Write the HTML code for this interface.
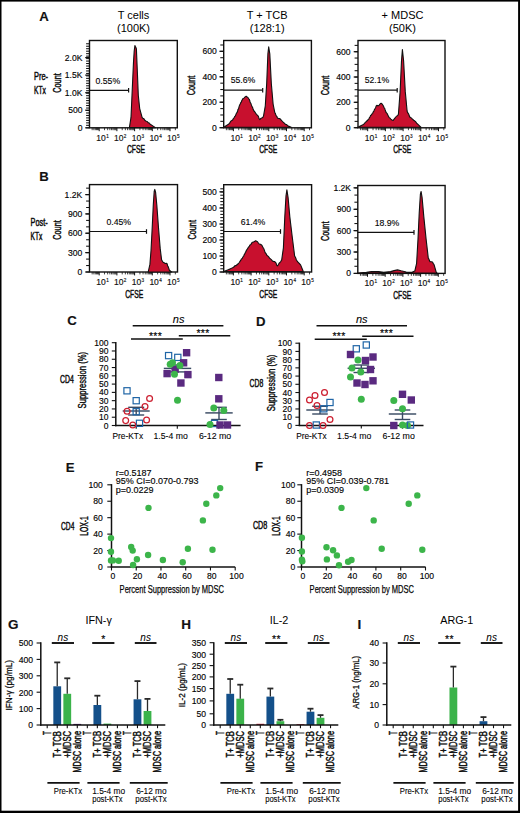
<!DOCTYPE html>
<html><head><meta charset="utf-8"><style>
html,body{margin:0;padding:0;background:#fff;}
svg{display:block;}
text{font-family:"Liberation Sans", sans-serif;stroke:#111;stroke-width:0.15px;}
</style></head><body>
<svg width="520" height="813" viewBox="0 0 520 813">
<rect width="520" height="813" fill="#fff"/>
<rect x="89.5" y="40.5" width="87.80000000000001" height="87.3" fill="none" stroke="#111" stroke-width="1.4"/>
<polygon points="129.4,127.6 131.0,117.4 132.5,84.0 133.5,62.0 134.2,51.0 134.9,45.5 135.4,46.5 135.9,47.4 136.4,49.0 137.4,73.0 138.3,95.3 139.7,108.6 142.1,117.4 142.9,118.4 143.8,118.6 144.6,120.0 145.4,120.8 146.3,121.3 147.2,121.6 148.1,122.7 149.0,122.9 149.9,124.0 155.4,127.6" fill="#c8102e" stroke="#111" stroke-width="1.1" stroke-linejoin="round"/>
<line x1="86.10" y1="127.80" x2="89.50" y2="127.80" stroke="#111" stroke-width="1.05"/>
<line x1="86.10" y1="125.33" x2="89.50" y2="125.33" stroke="#111" stroke-width="1.05"/>
<line x1="86.10" y1="122.86" x2="89.50" y2="122.86" stroke="#111" stroke-width="1.05"/>
<line x1="86.10" y1="120.39" x2="89.50" y2="120.39" stroke="#111" stroke-width="1.05"/>
<line x1="86.10" y1="117.91" x2="89.50" y2="117.91" stroke="#111" stroke-width="1.05"/>
<line x1="86.10" y1="115.44" x2="89.50" y2="115.44" stroke="#111" stroke-width="1.05"/>
<line x1="86.10" y1="112.97" x2="89.50" y2="112.97" stroke="#111" stroke-width="1.05"/>
<line x1="86.10" y1="110.50" x2="89.50" y2="110.50" stroke="#111" stroke-width="1.05"/>
<line x1="86.10" y1="108.03" x2="89.50" y2="108.03" stroke="#111" stroke-width="1.05"/>
<line x1="86.10" y1="105.56" x2="89.50" y2="105.56" stroke="#111" stroke-width="1.05"/>
<line x1="86.10" y1="103.09" x2="89.50" y2="103.09" stroke="#111" stroke-width="1.05"/>
<line x1="86.10" y1="100.61" x2="89.50" y2="100.61" stroke="#111" stroke-width="1.05"/>
<line x1="86.10" y1="98.14" x2="89.50" y2="98.14" stroke="#111" stroke-width="1.05"/>
<line x1="86.10" y1="95.67" x2="89.50" y2="95.67" stroke="#111" stroke-width="1.05"/>
<line x1="86.10" y1="93.20" x2="89.50" y2="93.20" stroke="#111" stroke-width="1.05"/>
<line x1="86.10" y1="90.73" x2="89.50" y2="90.73" stroke="#111" stroke-width="1.05"/>
<line x1="86.10" y1="88.26" x2="89.50" y2="88.26" stroke="#111" stroke-width="1.05"/>
<line x1="86.10" y1="85.79" x2="89.50" y2="85.79" stroke="#111" stroke-width="1.05"/>
<line x1="86.10" y1="83.31" x2="89.50" y2="83.31" stroke="#111" stroke-width="1.05"/>
<line x1="86.10" y1="80.84" x2="89.50" y2="80.84" stroke="#111" stroke-width="1.05"/>
<line x1="86.10" y1="78.37" x2="89.50" y2="78.37" stroke="#111" stroke-width="1.05"/>
<line x1="86.10" y1="75.90" x2="89.50" y2="75.90" stroke="#111" stroke-width="1.05"/>
<line x1="86.10" y1="73.43" x2="89.50" y2="73.43" stroke="#111" stroke-width="1.05"/>
<line x1="86.10" y1="70.96" x2="89.50" y2="70.96" stroke="#111" stroke-width="1.05"/>
<line x1="86.10" y1="68.49" x2="89.50" y2="68.49" stroke="#111" stroke-width="1.05"/>
<line x1="86.10" y1="66.01" x2="89.50" y2="66.01" stroke="#111" stroke-width="1.05"/>
<line x1="86.10" y1="63.54" x2="89.50" y2="63.54" stroke="#111" stroke-width="1.05"/>
<line x1="86.10" y1="61.07" x2="89.50" y2="61.07" stroke="#111" stroke-width="1.05"/>
<line x1="86.10" y1="58.60" x2="89.50" y2="58.60" stroke="#111" stroke-width="1.05"/>
<line x1="86.10" y1="56.13" x2="89.50" y2="56.13" stroke="#111" stroke-width="1.05"/>
<line x1="86.10" y1="53.66" x2="89.50" y2="53.66" stroke="#111" stroke-width="1.05"/>
<line x1="86.10" y1="51.19" x2="89.50" y2="51.19" stroke="#111" stroke-width="1.05"/>
<line x1="86.10" y1="48.71" x2="89.50" y2="48.71" stroke="#111" stroke-width="1.05"/>
<line x1="86.10" y1="46.24" x2="89.50" y2="46.24" stroke="#111" stroke-width="1.05"/>
<line x1="86.10" y1="43.77" x2="89.50" y2="43.77" stroke="#111" stroke-width="1.05"/>
<line x1="85.20" y1="127.80" x2="89.50" y2="127.80" stroke="#111" stroke-width="1.2"/>
<text x="0" y="0" font-size="8.6" text-anchor="end" transform="translate(82.50 130.80) scale(1.0 1)">0</text>
<line x1="85.20" y1="110.20" x2="89.50" y2="110.20" stroke="#111" stroke-width="1.2"/>
<text x="0" y="0" font-size="8.6" text-anchor="end" transform="translate(82.50 113.20) scale(1.0 1)">500</text>
<line x1="85.20" y1="92.70" x2="89.50" y2="92.70" stroke="#111" stroke-width="1.2"/>
<text x="0" y="0" font-size="8.6" text-anchor="end" transform="translate(82.50 95.70) scale(1.0 1)">1.0K</text>
<line x1="85.20" y1="75.10" x2="89.50" y2="75.10" stroke="#111" stroke-width="1.2"/>
<text x="0" y="0" font-size="8.6" text-anchor="end" transform="translate(82.50 78.10) scale(1.0 1)">1.5K</text>
<line x1="85.20" y1="57.60" x2="89.50" y2="57.60" stroke="#111" stroke-width="1.2"/>
<text x="0" y="0" font-size="8.6" text-anchor="end" transform="translate(82.50 60.60) scale(1.0 1)">2.0K</text>
<line x1="92.16" y1="127.80" x2="92.16" y2="130.20" stroke="#111" stroke-width="0.8"/>
<line x1="93.87" y1="127.80" x2="93.87" y2="130.20" stroke="#111" stroke-width="0.8"/>
<line x1="95.27" y1="127.80" x2="95.27" y2="130.20" stroke="#111" stroke-width="0.8"/>
<line x1="96.46" y1="127.80" x2="96.46" y2="130.20" stroke="#111" stroke-width="0.8"/>
<line x1="97.48" y1="127.80" x2="97.48" y2="130.20" stroke="#111" stroke-width="0.8"/>
<line x1="98.39" y1="127.80" x2="98.39" y2="130.20" stroke="#111" stroke-width="0.8"/>
<line x1="99.20" y1="127.80" x2="99.20" y2="131.20" stroke="#111" stroke-width="1.0"/>
<line x1="104.53" y1="127.80" x2="104.53" y2="130.20" stroke="#111" stroke-width="0.8"/>
<line x1="107.65" y1="127.80" x2="107.65" y2="130.20" stroke="#111" stroke-width="0.8"/>
<line x1="109.86" y1="127.80" x2="109.86" y2="130.20" stroke="#111" stroke-width="0.8"/>
<line x1="111.57" y1="127.80" x2="111.57" y2="130.20" stroke="#111" stroke-width="0.8"/>
<line x1="112.97" y1="127.80" x2="112.97" y2="130.20" stroke="#111" stroke-width="0.8"/>
<line x1="114.16" y1="127.80" x2="114.16" y2="130.20" stroke="#111" stroke-width="0.8"/>
<line x1="115.18" y1="127.80" x2="115.18" y2="130.20" stroke="#111" stroke-width="0.8"/>
<line x1="116.09" y1="127.80" x2="116.09" y2="130.20" stroke="#111" stroke-width="0.8"/>
<line x1="116.90" y1="127.80" x2="116.90" y2="131.20" stroke="#111" stroke-width="1.0"/>
<line x1="122.23" y1="127.80" x2="122.23" y2="130.20" stroke="#111" stroke-width="0.8"/>
<line x1="125.35" y1="127.80" x2="125.35" y2="130.20" stroke="#111" stroke-width="0.8"/>
<line x1="127.56" y1="127.80" x2="127.56" y2="130.20" stroke="#111" stroke-width="0.8"/>
<line x1="129.27" y1="127.80" x2="129.27" y2="130.20" stroke="#111" stroke-width="0.8"/>
<line x1="130.67" y1="127.80" x2="130.67" y2="130.20" stroke="#111" stroke-width="0.8"/>
<line x1="131.86" y1="127.80" x2="131.86" y2="130.20" stroke="#111" stroke-width="0.8"/>
<line x1="132.88" y1="127.80" x2="132.88" y2="130.20" stroke="#111" stroke-width="0.8"/>
<line x1="133.79" y1="127.80" x2="133.79" y2="130.20" stroke="#111" stroke-width="0.8"/>
<line x1="134.60" y1="127.80" x2="134.60" y2="131.20" stroke="#111" stroke-width="1.0"/>
<line x1="139.93" y1="127.80" x2="139.93" y2="130.20" stroke="#111" stroke-width="0.8"/>
<line x1="143.05" y1="127.80" x2="143.05" y2="130.20" stroke="#111" stroke-width="0.8"/>
<line x1="145.26" y1="127.80" x2="145.26" y2="130.20" stroke="#111" stroke-width="0.8"/>
<line x1="146.97" y1="127.80" x2="146.97" y2="130.20" stroke="#111" stroke-width="0.8"/>
<line x1="148.37" y1="127.80" x2="148.37" y2="130.20" stroke="#111" stroke-width="0.8"/>
<line x1="149.56" y1="127.80" x2="149.56" y2="130.20" stroke="#111" stroke-width="0.8"/>
<line x1="150.58" y1="127.80" x2="150.58" y2="130.20" stroke="#111" stroke-width="0.8"/>
<line x1="151.49" y1="127.80" x2="151.49" y2="130.20" stroke="#111" stroke-width="0.8"/>
<line x1="152.30" y1="127.80" x2="152.30" y2="131.20" stroke="#111" stroke-width="1.0"/>
<line x1="157.63" y1="127.80" x2="157.63" y2="130.20" stroke="#111" stroke-width="0.8"/>
<line x1="160.75" y1="127.80" x2="160.75" y2="130.20" stroke="#111" stroke-width="0.8"/>
<line x1="162.96" y1="127.80" x2="162.96" y2="130.20" stroke="#111" stroke-width="0.8"/>
<line x1="164.67" y1="127.80" x2="164.67" y2="130.20" stroke="#111" stroke-width="0.8"/>
<line x1="166.07" y1="127.80" x2="166.07" y2="130.20" stroke="#111" stroke-width="0.8"/>
<line x1="167.26" y1="127.80" x2="167.26" y2="130.20" stroke="#111" stroke-width="0.8"/>
<line x1="168.28" y1="127.80" x2="168.28" y2="130.20" stroke="#111" stroke-width="0.8"/>
<line x1="169.19" y1="127.80" x2="169.19" y2="130.20" stroke="#111" stroke-width="0.8"/>
<line x1="170.00" y1="127.80" x2="170.00" y2="131.20" stroke="#111" stroke-width="1.0"/>
<line x1="175.33" y1="127.80" x2="175.33" y2="130.20" stroke="#111" stroke-width="0.8"/>
<text x="96.30" y="140.80" font-size="8.5" fill="#111">10<tspan font-size="4.6" dy="-3.3" dx="0.4">1</tspan></text>
<text x="114.00" y="140.80" font-size="8.5" fill="#111">10<tspan font-size="4.6" dy="-3.3" dx="0.4">2</tspan></text>
<text x="131.70" y="140.80" font-size="8.5" fill="#111">10<tspan font-size="4.6" dy="-3.3" dx="0.4">3</tspan></text>
<text x="149.40" y="140.80" font-size="8.5" fill="#111">10<tspan font-size="4.6" dy="-3.3" dx="0.4">4</tspan></text>
<text x="167.10" y="140.80" font-size="8.5" fill="#111">10<tspan font-size="4.6" dy="-3.3" dx="0.4">5</tspan></text>
<text x="136.00" y="153.40" font-size="10" text-anchor="middle" textLength="18" lengthAdjust="spacingAndGlyphs" style="stroke-width:0.45px">CFSE</text>
<text x="60.60" y="83.00" font-size="10.5" text-anchor="middle" transform="rotate(-90 60.60 83.00)" textLength="19.5" lengthAdjust="spacingAndGlyphs" style="stroke-width:0.45px">Count</text>
<line x1="89.50" y1="90.30" x2="128.60" y2="90.30" stroke="#111" stroke-width="1.2"/>
<line x1="128.60" y1="88.00" x2="128.60" y2="92.60" stroke="#111" stroke-width="1.2"/>
<text x="95.50" y="83.50" font-size="8.7" text-anchor="start" style="stroke-width:0.12px">0.55%</text>
<rect x="223.7" y="40.5" width="87.69999999999999" height="87.3" fill="none" stroke="#111" stroke-width="1.4"/>
<polygon points="223.7,127.2 228.9,124.0 229.6,123.1 230.4,121.8 231.1,120.9 231.9,120.4 232.6,120.0 233.4,118.4 234.1,117.9 234.6,116.6 235.1,116.1 235.6,115.4 236.1,114.0 236.6,112.9 237.1,112.5 237.6,111.0 238.0,109.3 238.5,109.1 238.9,107.3 239.3,105.9 239.8,104.7 240.2,104.0 240.7,102.7 241.2,102.3 241.8,100.5 242.3,99.9 242.8,98.8 243.9,98.1 245.1,96.9 246.2,96.2 247.1,97.1 247.9,97.5 248.8,98.8 249.2,99.3 249.7,100.5 250.1,102.0 250.5,102.8 251.0,103.7 251.4,104.9 251.8,106.0 252.3,106.9 252.7,107.7 253.1,109.3 253.6,110.2 254.0,111.0 254.9,111.9 255.7,113.3 256.6,114.4 257.5,115.3 258.3,116.2 258.8,117.7 259.2,118.7 259.7,119.6 260.8,118.5 261.8,117.9 262.6,117.6 263.5,116.2 265.3,105.8 266.7,83.3 267.9,53.8 268.7,46.9 269.8,53.8 271.3,83.3 273.1,104.0 274.8,112.7 275.3,113.3 275.8,114.7 276.4,116.1 276.9,116.5 277.4,117.9 278.5,118.5 279.7,118.5 280.8,119.6 281.7,120.7 282.6,121.6 283.4,122.3 284.3,123.1 285.5,124.4 286.6,124.6 287.8,125.7 291.2,127.2" fill="#c8102e" stroke="#111" stroke-width="1.1" stroke-linejoin="round"/>
<line x1="220.30" y1="127.70" x2="223.70" y2="127.70" stroke="#111" stroke-width="1.05"/>
<line x1="220.30" y1="121.34" x2="223.70" y2="121.34" stroke="#111" stroke-width="1.05"/>
<line x1="220.30" y1="114.98" x2="223.70" y2="114.98" stroke="#111" stroke-width="1.05"/>
<line x1="220.30" y1="108.61" x2="223.70" y2="108.61" stroke="#111" stroke-width="1.05"/>
<line x1="220.30" y1="102.25" x2="223.70" y2="102.25" stroke="#111" stroke-width="1.05"/>
<line x1="220.30" y1="95.89" x2="223.70" y2="95.89" stroke="#111" stroke-width="1.05"/>
<line x1="220.30" y1="89.53" x2="223.70" y2="89.53" stroke="#111" stroke-width="1.05"/>
<line x1="220.30" y1="83.16" x2="223.70" y2="83.16" stroke="#111" stroke-width="1.05"/>
<line x1="220.30" y1="76.80" x2="223.70" y2="76.80" stroke="#111" stroke-width="1.05"/>
<line x1="220.30" y1="70.44" x2="223.70" y2="70.44" stroke="#111" stroke-width="1.05"/>
<line x1="220.30" y1="64.08" x2="223.70" y2="64.08" stroke="#111" stroke-width="1.05"/>
<line x1="220.30" y1="57.71" x2="223.70" y2="57.71" stroke="#111" stroke-width="1.05"/>
<line x1="220.30" y1="51.35" x2="223.70" y2="51.35" stroke="#111" stroke-width="1.05"/>
<line x1="220.30" y1="44.99" x2="223.70" y2="44.99" stroke="#111" stroke-width="1.05"/>
<line x1="219.40" y1="127.70" x2="223.70" y2="127.70" stroke="#111" stroke-width="1.2"/>
<text x="0" y="0" font-size="8.6" text-anchor="end" transform="translate(216.80 130.70) scale(1.0 1)">0</text>
<line x1="219.40" y1="102.20" x2="223.70" y2="102.20" stroke="#111" stroke-width="1.2"/>
<text x="0" y="0" font-size="8.6" text-anchor="end" transform="translate(216.80 105.20) scale(1.0 1)">200</text>
<line x1="219.40" y1="76.80" x2="223.70" y2="76.80" stroke="#111" stroke-width="1.2"/>
<text x="0" y="0" font-size="8.6" text-anchor="end" transform="translate(216.80 79.80) scale(1.0 1)">400</text>
<line x1="219.40" y1="51.30" x2="223.70" y2="51.30" stroke="#111" stroke-width="1.2"/>
<text x="0" y="0" font-size="8.6" text-anchor="end" transform="translate(216.80 54.30) scale(1.0 1)">600</text>
<line x1="226.36" y1="127.80" x2="226.36" y2="130.20" stroke="#111" stroke-width="0.8"/>
<line x1="228.07" y1="127.80" x2="228.07" y2="130.20" stroke="#111" stroke-width="0.8"/>
<line x1="229.47" y1="127.80" x2="229.47" y2="130.20" stroke="#111" stroke-width="0.8"/>
<line x1="230.66" y1="127.80" x2="230.66" y2="130.20" stroke="#111" stroke-width="0.8"/>
<line x1="231.68" y1="127.80" x2="231.68" y2="130.20" stroke="#111" stroke-width="0.8"/>
<line x1="232.59" y1="127.80" x2="232.59" y2="130.20" stroke="#111" stroke-width="0.8"/>
<line x1="233.40" y1="127.80" x2="233.40" y2="131.20" stroke="#111" stroke-width="1.0"/>
<line x1="238.73" y1="127.80" x2="238.73" y2="130.20" stroke="#111" stroke-width="0.8"/>
<line x1="241.85" y1="127.80" x2="241.85" y2="130.20" stroke="#111" stroke-width="0.8"/>
<line x1="244.06" y1="127.80" x2="244.06" y2="130.20" stroke="#111" stroke-width="0.8"/>
<line x1="245.77" y1="127.80" x2="245.77" y2="130.20" stroke="#111" stroke-width="0.8"/>
<line x1="247.17" y1="127.80" x2="247.17" y2="130.20" stroke="#111" stroke-width="0.8"/>
<line x1="248.36" y1="127.80" x2="248.36" y2="130.20" stroke="#111" stroke-width="0.8"/>
<line x1="249.38" y1="127.80" x2="249.38" y2="130.20" stroke="#111" stroke-width="0.8"/>
<line x1="250.29" y1="127.80" x2="250.29" y2="130.20" stroke="#111" stroke-width="0.8"/>
<line x1="251.10" y1="127.80" x2="251.10" y2="131.20" stroke="#111" stroke-width="1.0"/>
<line x1="256.43" y1="127.80" x2="256.43" y2="130.20" stroke="#111" stroke-width="0.8"/>
<line x1="259.55" y1="127.80" x2="259.55" y2="130.20" stroke="#111" stroke-width="0.8"/>
<line x1="261.76" y1="127.80" x2="261.76" y2="130.20" stroke="#111" stroke-width="0.8"/>
<line x1="263.47" y1="127.80" x2="263.47" y2="130.20" stroke="#111" stroke-width="0.8"/>
<line x1="264.87" y1="127.80" x2="264.87" y2="130.20" stroke="#111" stroke-width="0.8"/>
<line x1="266.06" y1="127.80" x2="266.06" y2="130.20" stroke="#111" stroke-width="0.8"/>
<line x1="267.08" y1="127.80" x2="267.08" y2="130.20" stroke="#111" stroke-width="0.8"/>
<line x1="267.99" y1="127.80" x2="267.99" y2="130.20" stroke="#111" stroke-width="0.8"/>
<line x1="268.80" y1="127.80" x2="268.80" y2="131.20" stroke="#111" stroke-width="1.0"/>
<line x1="274.13" y1="127.80" x2="274.13" y2="130.20" stroke="#111" stroke-width="0.8"/>
<line x1="277.25" y1="127.80" x2="277.25" y2="130.20" stroke="#111" stroke-width="0.8"/>
<line x1="279.46" y1="127.80" x2="279.46" y2="130.20" stroke="#111" stroke-width="0.8"/>
<line x1="281.17" y1="127.80" x2="281.17" y2="130.20" stroke="#111" stroke-width="0.8"/>
<line x1="282.57" y1="127.80" x2="282.57" y2="130.20" stroke="#111" stroke-width="0.8"/>
<line x1="283.76" y1="127.80" x2="283.76" y2="130.20" stroke="#111" stroke-width="0.8"/>
<line x1="284.78" y1="127.80" x2="284.78" y2="130.20" stroke="#111" stroke-width="0.8"/>
<line x1="285.69" y1="127.80" x2="285.69" y2="130.20" stroke="#111" stroke-width="0.8"/>
<line x1="286.50" y1="127.80" x2="286.50" y2="131.20" stroke="#111" stroke-width="1.0"/>
<line x1="291.83" y1="127.80" x2="291.83" y2="130.20" stroke="#111" stroke-width="0.8"/>
<line x1="294.95" y1="127.80" x2="294.95" y2="130.20" stroke="#111" stroke-width="0.8"/>
<line x1="297.16" y1="127.80" x2="297.16" y2="130.20" stroke="#111" stroke-width="0.8"/>
<line x1="298.87" y1="127.80" x2="298.87" y2="130.20" stroke="#111" stroke-width="0.8"/>
<line x1="300.27" y1="127.80" x2="300.27" y2="130.20" stroke="#111" stroke-width="0.8"/>
<line x1="301.46" y1="127.80" x2="301.46" y2="130.20" stroke="#111" stroke-width="0.8"/>
<line x1="302.48" y1="127.80" x2="302.48" y2="130.20" stroke="#111" stroke-width="0.8"/>
<line x1="303.39" y1="127.80" x2="303.39" y2="130.20" stroke="#111" stroke-width="0.8"/>
<line x1="304.20" y1="127.80" x2="304.20" y2="131.20" stroke="#111" stroke-width="1.0"/>
<line x1="309.53" y1="127.80" x2="309.53" y2="130.20" stroke="#111" stroke-width="0.8"/>
<text x="230.50" y="140.80" font-size="8.5" fill="#111">10<tspan font-size="4.6" dy="-3.3" dx="0.4">1</tspan></text>
<text x="248.20" y="140.80" font-size="8.5" fill="#111">10<tspan font-size="4.6" dy="-3.3" dx="0.4">2</tspan></text>
<text x="265.90" y="140.80" font-size="8.5" fill="#111">10<tspan font-size="4.6" dy="-3.3" dx="0.4">3</tspan></text>
<text x="283.60" y="140.80" font-size="8.5" fill="#111">10<tspan font-size="4.6" dy="-3.3" dx="0.4">4</tspan></text>
<text x="301.30" y="140.80" font-size="8.5" fill="#111">10<tspan font-size="4.6" dy="-3.3" dx="0.4">5</tspan></text>
<text x="268.25" y="153.40" font-size="10" text-anchor="middle" textLength="18" lengthAdjust="spacingAndGlyphs" style="stroke-width:0.45px">CFSE</text>
<text x="195.10" y="85.50" font-size="10.5" text-anchor="middle" transform="rotate(-90 195.10 85.50)" textLength="19.5" lengthAdjust="spacingAndGlyphs" style="stroke-width:0.45px">Count</text>
<line x1="223.70" y1="90.20" x2="262.70" y2="90.20" stroke="#111" stroke-width="1.2"/>
<line x1="262.70" y1="87.90" x2="262.70" y2="92.50" stroke="#111" stroke-width="1.2"/>
<text x="230.70" y="83.30" font-size="8.7" text-anchor="start" style="stroke-width:0.12px">55.6%</text>
<rect x="358" y="40.5" width="87" height="87.3" fill="none" stroke="#111" stroke-width="1.4"/>
<polygon points="357.7,127.2 362.9,124.8 363.8,124.1 364.6,123.2 365.5,122.3 366.4,121.3 367.2,120.8 368.1,119.6 368.8,119.1 369.4,117.6 370.1,116.9 370.7,115.2 371.4,114.9 372.0,113.9 372.7,113.3 373.3,111.8 373.9,111.1 374.5,109.4 375.1,108.5 375.6,107.7 376.2,105.9 376.8,105.4 378.5,105.8 379.4,104.9 380.2,103.7 381.1,103.2 382.0,103.9 382.8,105.0 383.7,106.6 384.1,107.9 384.6,108.2 385.0,109.4 385.4,110.5 385.9,112.1 386.3,112.7 387.0,113.3 387.7,114.7 388.3,115.9 389.0,117.3 389.7,117.9 390.9,119.1 392.0,120.0 393.2,120.5 394.1,119.1 394.9,118.1 395.8,117.0 396.7,116.0 397.5,115.7 398.4,114.4 400.1,91.9 401.5,60.8 402.4,49.5 403.6,60.8 405.3,91.9 407.1,111.0 407.6,112.7 408.1,113.0 408.7,114.2 409.2,115.5 409.7,117.0 410.8,117.6 412.0,118.7 413.1,119.6 414.0,120.6 414.9,121.1 415.7,121.7 416.6,123.1 420.9,127.2" fill="#c8102e" stroke="#111" stroke-width="1.1" stroke-linejoin="round"/>
<line x1="354.60" y1="127.70" x2="358.00" y2="127.70" stroke="#111" stroke-width="1.05"/>
<line x1="354.60" y1="121.37" x2="358.00" y2="121.37" stroke="#111" stroke-width="1.05"/>
<line x1="354.60" y1="115.04" x2="358.00" y2="115.04" stroke="#111" stroke-width="1.05"/>
<line x1="354.60" y1="108.70" x2="358.00" y2="108.70" stroke="#111" stroke-width="1.05"/>
<line x1="354.60" y1="102.37" x2="358.00" y2="102.37" stroke="#111" stroke-width="1.05"/>
<line x1="354.60" y1="96.04" x2="358.00" y2="96.04" stroke="#111" stroke-width="1.05"/>
<line x1="354.60" y1="89.71" x2="358.00" y2="89.71" stroke="#111" stroke-width="1.05"/>
<line x1="354.60" y1="83.37" x2="358.00" y2="83.37" stroke="#111" stroke-width="1.05"/>
<line x1="354.60" y1="77.04" x2="358.00" y2="77.04" stroke="#111" stroke-width="1.05"/>
<line x1="354.60" y1="70.71" x2="358.00" y2="70.71" stroke="#111" stroke-width="1.05"/>
<line x1="354.60" y1="64.38" x2="358.00" y2="64.38" stroke="#111" stroke-width="1.05"/>
<line x1="354.60" y1="58.04" x2="358.00" y2="58.04" stroke="#111" stroke-width="1.05"/>
<line x1="354.60" y1="51.71" x2="358.00" y2="51.71" stroke="#111" stroke-width="1.05"/>
<line x1="354.60" y1="45.38" x2="358.00" y2="45.38" stroke="#111" stroke-width="1.05"/>
<line x1="353.70" y1="127.70" x2="358.00" y2="127.70" stroke="#111" stroke-width="1.2"/>
<text x="0" y="0" font-size="8.6" text-anchor="end" transform="translate(350.50 130.70) scale(1.0 1)">0</text>
<line x1="353.70" y1="102.30" x2="358.00" y2="102.30" stroke="#111" stroke-width="1.2"/>
<text x="0" y="0" font-size="8.6" text-anchor="end" transform="translate(350.50 105.30) scale(1.0 1)">200</text>
<line x1="353.70" y1="77.00" x2="358.00" y2="77.00" stroke="#111" stroke-width="1.2"/>
<text x="0" y="0" font-size="8.6" text-anchor="end" transform="translate(350.50 80.00) scale(1.0 1)">400</text>
<line x1="353.70" y1="51.70" x2="358.00" y2="51.70" stroke="#111" stroke-width="1.2"/>
<text x="0" y="0" font-size="8.6" text-anchor="end" transform="translate(350.50 54.70) scale(1.0 1)">600</text>
<line x1="360.66" y1="127.80" x2="360.66" y2="130.20" stroke="#111" stroke-width="0.8"/>
<line x1="362.37" y1="127.80" x2="362.37" y2="130.20" stroke="#111" stroke-width="0.8"/>
<line x1="363.77" y1="127.80" x2="363.77" y2="130.20" stroke="#111" stroke-width="0.8"/>
<line x1="364.96" y1="127.80" x2="364.96" y2="130.20" stroke="#111" stroke-width="0.8"/>
<line x1="365.98" y1="127.80" x2="365.98" y2="130.20" stroke="#111" stroke-width="0.8"/>
<line x1="366.89" y1="127.80" x2="366.89" y2="130.20" stroke="#111" stroke-width="0.8"/>
<line x1="367.70" y1="127.80" x2="367.70" y2="131.20" stroke="#111" stroke-width="1.0"/>
<line x1="373.03" y1="127.80" x2="373.03" y2="130.20" stroke="#111" stroke-width="0.8"/>
<line x1="376.15" y1="127.80" x2="376.15" y2="130.20" stroke="#111" stroke-width="0.8"/>
<line x1="378.36" y1="127.80" x2="378.36" y2="130.20" stroke="#111" stroke-width="0.8"/>
<line x1="380.07" y1="127.80" x2="380.07" y2="130.20" stroke="#111" stroke-width="0.8"/>
<line x1="381.47" y1="127.80" x2="381.47" y2="130.20" stroke="#111" stroke-width="0.8"/>
<line x1="382.66" y1="127.80" x2="382.66" y2="130.20" stroke="#111" stroke-width="0.8"/>
<line x1="383.68" y1="127.80" x2="383.68" y2="130.20" stroke="#111" stroke-width="0.8"/>
<line x1="384.59" y1="127.80" x2="384.59" y2="130.20" stroke="#111" stroke-width="0.8"/>
<line x1="385.40" y1="127.80" x2="385.40" y2="131.20" stroke="#111" stroke-width="1.0"/>
<line x1="390.73" y1="127.80" x2="390.73" y2="130.20" stroke="#111" stroke-width="0.8"/>
<line x1="393.85" y1="127.80" x2="393.85" y2="130.20" stroke="#111" stroke-width="0.8"/>
<line x1="396.06" y1="127.80" x2="396.06" y2="130.20" stroke="#111" stroke-width="0.8"/>
<line x1="397.77" y1="127.80" x2="397.77" y2="130.20" stroke="#111" stroke-width="0.8"/>
<line x1="399.17" y1="127.80" x2="399.17" y2="130.20" stroke="#111" stroke-width="0.8"/>
<line x1="400.36" y1="127.80" x2="400.36" y2="130.20" stroke="#111" stroke-width="0.8"/>
<line x1="401.38" y1="127.80" x2="401.38" y2="130.20" stroke="#111" stroke-width="0.8"/>
<line x1="402.29" y1="127.80" x2="402.29" y2="130.20" stroke="#111" stroke-width="0.8"/>
<line x1="403.10" y1="127.80" x2="403.10" y2="131.20" stroke="#111" stroke-width="1.0"/>
<line x1="408.43" y1="127.80" x2="408.43" y2="130.20" stroke="#111" stroke-width="0.8"/>
<line x1="411.55" y1="127.80" x2="411.55" y2="130.20" stroke="#111" stroke-width="0.8"/>
<line x1="413.76" y1="127.80" x2="413.76" y2="130.20" stroke="#111" stroke-width="0.8"/>
<line x1="415.47" y1="127.80" x2="415.47" y2="130.20" stroke="#111" stroke-width="0.8"/>
<line x1="416.87" y1="127.80" x2="416.87" y2="130.20" stroke="#111" stroke-width="0.8"/>
<line x1="418.06" y1="127.80" x2="418.06" y2="130.20" stroke="#111" stroke-width="0.8"/>
<line x1="419.08" y1="127.80" x2="419.08" y2="130.20" stroke="#111" stroke-width="0.8"/>
<line x1="419.99" y1="127.80" x2="419.99" y2="130.20" stroke="#111" stroke-width="0.8"/>
<line x1="420.80" y1="127.80" x2="420.80" y2="131.20" stroke="#111" stroke-width="1.0"/>
<line x1="426.13" y1="127.80" x2="426.13" y2="130.20" stroke="#111" stroke-width="0.8"/>
<line x1="429.25" y1="127.80" x2="429.25" y2="130.20" stroke="#111" stroke-width="0.8"/>
<line x1="431.46" y1="127.80" x2="431.46" y2="130.20" stroke="#111" stroke-width="0.8"/>
<line x1="433.17" y1="127.80" x2="433.17" y2="130.20" stroke="#111" stroke-width="0.8"/>
<line x1="434.57" y1="127.80" x2="434.57" y2="130.20" stroke="#111" stroke-width="0.8"/>
<line x1="435.76" y1="127.80" x2="435.76" y2="130.20" stroke="#111" stroke-width="0.8"/>
<line x1="436.78" y1="127.80" x2="436.78" y2="130.20" stroke="#111" stroke-width="0.8"/>
<line x1="437.69" y1="127.80" x2="437.69" y2="130.20" stroke="#111" stroke-width="0.8"/>
<line x1="438.50" y1="127.80" x2="438.50" y2="131.20" stroke="#111" stroke-width="1.0"/>
<line x1="443.83" y1="127.80" x2="443.83" y2="130.20" stroke="#111" stroke-width="0.8"/>
<text x="364.80" y="140.80" font-size="8.5" fill="#111">10<tspan font-size="4.6" dy="-3.3" dx="0.4">1</tspan></text>
<text x="382.50" y="140.80" font-size="8.5" fill="#111">10<tspan font-size="4.6" dy="-3.3" dx="0.4">2</tspan></text>
<text x="400.20" y="140.80" font-size="8.5" fill="#111">10<tspan font-size="4.6" dy="-3.3" dx="0.4">3</tspan></text>
<text x="417.90" y="140.80" font-size="8.5" fill="#111">10<tspan font-size="4.6" dy="-3.3" dx="0.4">4</tspan></text>
<text x="435.60" y="140.80" font-size="8.5" fill="#111">10<tspan font-size="4.6" dy="-3.3" dx="0.4">5</tspan></text>
<text x="402.20" y="153.40" font-size="10" text-anchor="middle" textLength="18" lengthAdjust="spacingAndGlyphs" style="stroke-width:0.45px">CFSE</text>
<text x="329.10" y="85.50" font-size="10.5" text-anchor="middle" transform="rotate(-90 329.10 85.50)" textLength="19.5" lengthAdjust="spacingAndGlyphs" style="stroke-width:0.45px">Count</text>
<line x1="358.00" y1="90.20" x2="397.20" y2="90.20" stroke="#111" stroke-width="1.2"/>
<line x1="397.20" y1="87.90" x2="397.20" y2="92.50" stroke="#111" stroke-width="1.2"/>
<text x="364.70" y="83.30" font-size="8.7" text-anchor="start" style="stroke-width:0.12px">52.1%</text>
<rect x="89.5" y="184.6" width="88.0" height="87.4" fill="none" stroke="#111" stroke-width="1.4"/>
<polygon points="148.2,272.0 149.9,264.4 151.0,250.7 152.2,227.8 153.3,204.9 154.2,191.2 154.8,189.4 155.6,192.3 156.8,204.9 158.5,227.8 160.2,248.4 161.6,259.9 162.3,261.0 163.1,262.2 164.1,262.7 165.0,263.5 166.8,263.3 167.3,264.5 167.7,266.1 168.2,266.7 169.4,270.2 171.6,272.0" fill="#c8102e" stroke="#111" stroke-width="1.1" stroke-linejoin="round"/>
<line x1="86.10" y1="272.00" x2="89.50" y2="272.00" stroke="#111" stroke-width="1.05"/>
<line x1="86.10" y1="265.55" x2="89.50" y2="265.55" stroke="#111" stroke-width="1.05"/>
<line x1="86.10" y1="259.10" x2="89.50" y2="259.10" stroke="#111" stroke-width="1.05"/>
<line x1="86.10" y1="252.65" x2="89.50" y2="252.65" stroke="#111" stroke-width="1.05"/>
<line x1="86.10" y1="246.20" x2="89.50" y2="246.20" stroke="#111" stroke-width="1.05"/>
<line x1="86.10" y1="239.75" x2="89.50" y2="239.75" stroke="#111" stroke-width="1.05"/>
<line x1="86.10" y1="233.30" x2="89.50" y2="233.30" stroke="#111" stroke-width="1.05"/>
<line x1="86.10" y1="226.85" x2="89.50" y2="226.85" stroke="#111" stroke-width="1.05"/>
<line x1="86.10" y1="220.40" x2="89.50" y2="220.40" stroke="#111" stroke-width="1.05"/>
<line x1="86.10" y1="213.95" x2="89.50" y2="213.95" stroke="#111" stroke-width="1.05"/>
<line x1="86.10" y1="207.50" x2="89.50" y2="207.50" stroke="#111" stroke-width="1.05"/>
<line x1="86.10" y1="201.05" x2="89.50" y2="201.05" stroke="#111" stroke-width="1.05"/>
<line x1="86.10" y1="194.60" x2="89.50" y2="194.60" stroke="#111" stroke-width="1.05"/>
<line x1="86.10" y1="188.15" x2="89.50" y2="188.15" stroke="#111" stroke-width="1.05"/>
<line x1="85.20" y1="272.00" x2="89.50" y2="272.00" stroke="#111" stroke-width="1.2"/>
<text x="0" y="0" font-size="8.6" text-anchor="end" transform="translate(82.30 275.00) scale(1.0 1)">0</text>
<line x1="85.20" y1="252.60" x2="89.50" y2="252.60" stroke="#111" stroke-width="1.2"/>
<text x="0" y="0" font-size="8.6" text-anchor="end" transform="translate(82.30 255.60) scale(1.0 1)">300</text>
<line x1="85.20" y1="233.20" x2="89.50" y2="233.20" stroke="#111" stroke-width="1.2"/>
<text x="0" y="0" font-size="8.6" text-anchor="end" transform="translate(82.30 236.20) scale(1.0 1)">600</text>
<line x1="85.20" y1="213.90" x2="89.50" y2="213.90" stroke="#111" stroke-width="1.2"/>
<text x="0" y="0" font-size="8.6" text-anchor="end" transform="translate(82.30 216.90) scale(1.0 1)">900</text>
<line x1="85.20" y1="194.60" x2="89.50" y2="194.60" stroke="#111" stroke-width="1.2"/>
<text x="0" y="0" font-size="8.6" text-anchor="end" transform="translate(82.30 197.60) scale(1.0 1)">1.2K</text>
<line x1="92.16" y1="272.00" x2="92.16" y2="274.40" stroke="#111" stroke-width="0.8"/>
<line x1="93.87" y1="272.00" x2="93.87" y2="274.40" stroke="#111" stroke-width="0.8"/>
<line x1="95.27" y1="272.00" x2="95.27" y2="274.40" stroke="#111" stroke-width="0.8"/>
<line x1="96.46" y1="272.00" x2="96.46" y2="274.40" stroke="#111" stroke-width="0.8"/>
<line x1="97.48" y1="272.00" x2="97.48" y2="274.40" stroke="#111" stroke-width="0.8"/>
<line x1="98.39" y1="272.00" x2="98.39" y2="274.40" stroke="#111" stroke-width="0.8"/>
<line x1="99.20" y1="272.00" x2="99.20" y2="275.40" stroke="#111" stroke-width="1.0"/>
<line x1="104.53" y1="272.00" x2="104.53" y2="274.40" stroke="#111" stroke-width="0.8"/>
<line x1="107.65" y1="272.00" x2="107.65" y2="274.40" stroke="#111" stroke-width="0.8"/>
<line x1="109.86" y1="272.00" x2="109.86" y2="274.40" stroke="#111" stroke-width="0.8"/>
<line x1="111.57" y1="272.00" x2="111.57" y2="274.40" stroke="#111" stroke-width="0.8"/>
<line x1="112.97" y1="272.00" x2="112.97" y2="274.40" stroke="#111" stroke-width="0.8"/>
<line x1="114.16" y1="272.00" x2="114.16" y2="274.40" stroke="#111" stroke-width="0.8"/>
<line x1="115.18" y1="272.00" x2="115.18" y2="274.40" stroke="#111" stroke-width="0.8"/>
<line x1="116.09" y1="272.00" x2="116.09" y2="274.40" stroke="#111" stroke-width="0.8"/>
<line x1="116.90" y1="272.00" x2="116.90" y2="275.40" stroke="#111" stroke-width="1.0"/>
<line x1="122.23" y1="272.00" x2="122.23" y2="274.40" stroke="#111" stroke-width="0.8"/>
<line x1="125.35" y1="272.00" x2="125.35" y2="274.40" stroke="#111" stroke-width="0.8"/>
<line x1="127.56" y1="272.00" x2="127.56" y2="274.40" stroke="#111" stroke-width="0.8"/>
<line x1="129.27" y1="272.00" x2="129.27" y2="274.40" stroke="#111" stroke-width="0.8"/>
<line x1="130.67" y1="272.00" x2="130.67" y2="274.40" stroke="#111" stroke-width="0.8"/>
<line x1="131.86" y1="272.00" x2="131.86" y2="274.40" stroke="#111" stroke-width="0.8"/>
<line x1="132.88" y1="272.00" x2="132.88" y2="274.40" stroke="#111" stroke-width="0.8"/>
<line x1="133.79" y1="272.00" x2="133.79" y2="274.40" stroke="#111" stroke-width="0.8"/>
<line x1="134.60" y1="272.00" x2="134.60" y2="275.40" stroke="#111" stroke-width="1.0"/>
<line x1="139.93" y1="272.00" x2="139.93" y2="274.40" stroke="#111" stroke-width="0.8"/>
<line x1="143.05" y1="272.00" x2="143.05" y2="274.40" stroke="#111" stroke-width="0.8"/>
<line x1="145.26" y1="272.00" x2="145.26" y2="274.40" stroke="#111" stroke-width="0.8"/>
<line x1="146.97" y1="272.00" x2="146.97" y2="274.40" stroke="#111" stroke-width="0.8"/>
<line x1="148.37" y1="272.00" x2="148.37" y2="274.40" stroke="#111" stroke-width="0.8"/>
<line x1="149.56" y1="272.00" x2="149.56" y2="274.40" stroke="#111" stroke-width="0.8"/>
<line x1="150.58" y1="272.00" x2="150.58" y2="274.40" stroke="#111" stroke-width="0.8"/>
<line x1="151.49" y1="272.00" x2="151.49" y2="274.40" stroke="#111" stroke-width="0.8"/>
<line x1="152.30" y1="272.00" x2="152.30" y2="275.40" stroke="#111" stroke-width="1.0"/>
<line x1="157.63" y1="272.00" x2="157.63" y2="274.40" stroke="#111" stroke-width="0.8"/>
<line x1="160.75" y1="272.00" x2="160.75" y2="274.40" stroke="#111" stroke-width="0.8"/>
<line x1="162.96" y1="272.00" x2="162.96" y2="274.40" stroke="#111" stroke-width="0.8"/>
<line x1="164.67" y1="272.00" x2="164.67" y2="274.40" stroke="#111" stroke-width="0.8"/>
<line x1="166.07" y1="272.00" x2="166.07" y2="274.40" stroke="#111" stroke-width="0.8"/>
<line x1="167.26" y1="272.00" x2="167.26" y2="274.40" stroke="#111" stroke-width="0.8"/>
<line x1="168.28" y1="272.00" x2="168.28" y2="274.40" stroke="#111" stroke-width="0.8"/>
<line x1="169.19" y1="272.00" x2="169.19" y2="274.40" stroke="#111" stroke-width="0.8"/>
<line x1="170.00" y1="272.00" x2="170.00" y2="275.40" stroke="#111" stroke-width="1.0"/>
<line x1="175.33" y1="272.00" x2="175.33" y2="274.40" stroke="#111" stroke-width="0.8"/>
<text x="96.30" y="285.00" font-size="8.5" fill="#111">10<tspan font-size="4.6" dy="-3.3" dx="0.4">1</tspan></text>
<text x="114.00" y="285.00" font-size="8.5" fill="#111">10<tspan font-size="4.6" dy="-3.3" dx="0.4">2</tspan></text>
<text x="131.70" y="285.00" font-size="8.5" fill="#111">10<tspan font-size="4.6" dy="-3.3" dx="0.4">3</tspan></text>
<text x="149.40" y="285.00" font-size="8.5" fill="#111">10<tspan font-size="4.6" dy="-3.3" dx="0.4">4</tspan></text>
<text x="167.10" y="285.00" font-size="8.5" fill="#111">10<tspan font-size="4.6" dy="-3.3" dx="0.4">5</tspan></text>
<text x="134.20" y="297.60" font-size="10" text-anchor="middle" textLength="18" lengthAdjust="spacingAndGlyphs" style="stroke-width:0.45px">CFSE</text>
<text x="61.40" y="230.00" font-size="10.5" text-anchor="middle" transform="rotate(-90 61.40 230.00)" textLength="19.5" lengthAdjust="spacingAndGlyphs" style="stroke-width:0.45px">Count</text>
<line x1="89.50" y1="231.50" x2="146.50" y2="231.50" stroke="#111" stroke-width="1.2"/>
<line x1="146.50" y1="229.20" x2="146.50" y2="233.80" stroke="#111" stroke-width="1.2"/>
<text x="106.40" y="225.00" font-size="8.7" text-anchor="start" style="stroke-width:0.12px">0.45%</text>
<rect x="223.7" y="184.7" width="87.90000000000003" height="87.30000000000001" fill="none" stroke="#111" stroke-width="1.4"/>
<polygon points="223.7,271.5 228.9,269.4 229.9,269.1 231.0,268.4 232.0,268.0 233.1,267.5 234.1,266.8 235.0,265.6 235.8,265.8 236.7,265.0 237.6,264.3 238.4,263.5 239.3,262.5 240.0,261.4 240.7,260.4 241.4,259.0 242.2,258.6 242.9,256.9 243.6,256.4 244.1,254.9 244.6,254.1 245.1,253.1 245.6,252.3 246.1,251.0 246.6,249.9 247.1,249.5 247.8,248.2 248.5,247.1 249.2,246.5 249.9,245.1 250.6,244.7 251.3,244.0 252.0,242.5 254.0,241.7 255.7,240.8 257.5,241.7 258.4,243.0 259.2,244.0 260.5,244.2 261.8,245.2 262.3,246.0 262.8,247.1 263.4,248.2 263.9,248.9 264.4,250.4 264.9,251.8 265.4,253.0 266.0,253.5 266.5,254.5 267.0,255.6 267.9,256.0 268.7,256.9 269.6,258.2 270.5,258.9 271.3,259.6 272.2,260.7 273.5,261.5 274.8,261.6 275.4,262.3 276.1,263.2 276.8,265.3 277.4,265.9 278.3,264.8 279.1,263.2 280.0,262.5 280.9,261.2 281.7,259.9 283.4,247.8 284.8,216.6 286.0,195.8 286.9,189.8 288.1,197.6 289.8,216.6 292.1,235.7 294.7,256.4 295.3,256.9 295.9,258.5 296.4,260.0 297.0,260.9 297.6,261.7 298.2,262.5 299.0,263.1 299.9,264.1 300.7,265.1 303.3,271.5" fill="#c8102e" stroke="#111" stroke-width="1.1" stroke-linejoin="round"/>
<line x1="220.30" y1="272.00" x2="223.70" y2="272.00" stroke="#111" stroke-width="1.05"/>
<line x1="220.30" y1="268.80" x2="223.70" y2="268.80" stroke="#111" stroke-width="1.05"/>
<line x1="220.30" y1="265.60" x2="223.70" y2="265.60" stroke="#111" stroke-width="1.05"/>
<line x1="220.30" y1="262.40" x2="223.70" y2="262.40" stroke="#111" stroke-width="1.05"/>
<line x1="220.30" y1="259.20" x2="223.70" y2="259.20" stroke="#111" stroke-width="1.05"/>
<line x1="220.30" y1="256.00" x2="223.70" y2="256.00" stroke="#111" stroke-width="1.05"/>
<line x1="220.30" y1="252.80" x2="223.70" y2="252.80" stroke="#111" stroke-width="1.05"/>
<line x1="220.30" y1="249.60" x2="223.70" y2="249.60" stroke="#111" stroke-width="1.05"/>
<line x1="220.30" y1="246.40" x2="223.70" y2="246.40" stroke="#111" stroke-width="1.05"/>
<line x1="220.30" y1="243.20" x2="223.70" y2="243.20" stroke="#111" stroke-width="1.05"/>
<line x1="220.30" y1="240.00" x2="223.70" y2="240.00" stroke="#111" stroke-width="1.05"/>
<line x1="220.30" y1="236.80" x2="223.70" y2="236.80" stroke="#111" stroke-width="1.05"/>
<line x1="220.30" y1="233.60" x2="223.70" y2="233.60" stroke="#111" stroke-width="1.05"/>
<line x1="220.30" y1="230.40" x2="223.70" y2="230.40" stroke="#111" stroke-width="1.05"/>
<line x1="220.30" y1="227.20" x2="223.70" y2="227.20" stroke="#111" stroke-width="1.05"/>
<line x1="220.30" y1="224.00" x2="223.70" y2="224.00" stroke="#111" stroke-width="1.05"/>
<line x1="220.30" y1="220.80" x2="223.70" y2="220.80" stroke="#111" stroke-width="1.05"/>
<line x1="220.30" y1="217.60" x2="223.70" y2="217.60" stroke="#111" stroke-width="1.05"/>
<line x1="220.30" y1="214.40" x2="223.70" y2="214.40" stroke="#111" stroke-width="1.05"/>
<line x1="220.30" y1="211.20" x2="223.70" y2="211.20" stroke="#111" stroke-width="1.05"/>
<line x1="220.30" y1="208.00" x2="223.70" y2="208.00" stroke="#111" stroke-width="1.05"/>
<line x1="220.30" y1="204.80" x2="223.70" y2="204.80" stroke="#111" stroke-width="1.05"/>
<line x1="220.30" y1="201.60" x2="223.70" y2="201.60" stroke="#111" stroke-width="1.05"/>
<line x1="220.30" y1="198.40" x2="223.70" y2="198.40" stroke="#111" stroke-width="1.05"/>
<line x1="220.30" y1="195.20" x2="223.70" y2="195.20" stroke="#111" stroke-width="1.05"/>
<line x1="220.30" y1="192.00" x2="223.70" y2="192.00" stroke="#111" stroke-width="1.05"/>
<line x1="220.30" y1="188.80" x2="223.70" y2="188.80" stroke="#111" stroke-width="1.05"/>
<line x1="219.40" y1="272.00" x2="223.70" y2="272.00" stroke="#111" stroke-width="1.2"/>
<text x="0" y="0" font-size="8.6" text-anchor="end" transform="translate(216.80 275.00) scale(1.0 1)">0</text>
<line x1="219.40" y1="256.00" x2="223.70" y2="256.00" stroke="#111" stroke-width="1.2"/>
<text x="0" y="0" font-size="8.6" text-anchor="end" transform="translate(216.80 259.00) scale(1.0 1)">100</text>
<line x1="219.40" y1="240.00" x2="223.70" y2="240.00" stroke="#111" stroke-width="1.2"/>
<text x="0" y="0" font-size="8.6" text-anchor="end" transform="translate(216.80 243.00) scale(1.0 1)">200</text>
<line x1="219.40" y1="224.00" x2="223.70" y2="224.00" stroke="#111" stroke-width="1.2"/>
<text x="0" y="0" font-size="8.6" text-anchor="end" transform="translate(216.80 227.00) scale(1.0 1)">300</text>
<line x1="219.40" y1="208.00" x2="223.70" y2="208.00" stroke="#111" stroke-width="1.2"/>
<text x="0" y="0" font-size="8.6" text-anchor="end" transform="translate(216.80 211.00) scale(1.0 1)">400</text>
<line x1="219.40" y1="191.80" x2="223.70" y2="191.80" stroke="#111" stroke-width="1.2"/>
<text x="0" y="0" font-size="8.6" text-anchor="end" transform="translate(216.80 194.80) scale(1.0 1)">500</text>
<line x1="226.36" y1="272.00" x2="226.36" y2="274.40" stroke="#111" stroke-width="0.8"/>
<line x1="228.07" y1="272.00" x2="228.07" y2="274.40" stroke="#111" stroke-width="0.8"/>
<line x1="229.47" y1="272.00" x2="229.47" y2="274.40" stroke="#111" stroke-width="0.8"/>
<line x1="230.66" y1="272.00" x2="230.66" y2="274.40" stroke="#111" stroke-width="0.8"/>
<line x1="231.68" y1="272.00" x2="231.68" y2="274.40" stroke="#111" stroke-width="0.8"/>
<line x1="232.59" y1="272.00" x2="232.59" y2="274.40" stroke="#111" stroke-width="0.8"/>
<line x1="233.40" y1="272.00" x2="233.40" y2="275.40" stroke="#111" stroke-width="1.0"/>
<line x1="238.73" y1="272.00" x2="238.73" y2="274.40" stroke="#111" stroke-width="0.8"/>
<line x1="241.85" y1="272.00" x2="241.85" y2="274.40" stroke="#111" stroke-width="0.8"/>
<line x1="244.06" y1="272.00" x2="244.06" y2="274.40" stroke="#111" stroke-width="0.8"/>
<line x1="245.77" y1="272.00" x2="245.77" y2="274.40" stroke="#111" stroke-width="0.8"/>
<line x1="247.17" y1="272.00" x2="247.17" y2="274.40" stroke="#111" stroke-width="0.8"/>
<line x1="248.36" y1="272.00" x2="248.36" y2="274.40" stroke="#111" stroke-width="0.8"/>
<line x1="249.38" y1="272.00" x2="249.38" y2="274.40" stroke="#111" stroke-width="0.8"/>
<line x1="250.29" y1="272.00" x2="250.29" y2="274.40" stroke="#111" stroke-width="0.8"/>
<line x1="251.10" y1="272.00" x2="251.10" y2="275.40" stroke="#111" stroke-width="1.0"/>
<line x1="256.43" y1="272.00" x2="256.43" y2="274.40" stroke="#111" stroke-width="0.8"/>
<line x1="259.55" y1="272.00" x2="259.55" y2="274.40" stroke="#111" stroke-width="0.8"/>
<line x1="261.76" y1="272.00" x2="261.76" y2="274.40" stroke="#111" stroke-width="0.8"/>
<line x1="263.47" y1="272.00" x2="263.47" y2="274.40" stroke="#111" stroke-width="0.8"/>
<line x1="264.87" y1="272.00" x2="264.87" y2="274.40" stroke="#111" stroke-width="0.8"/>
<line x1="266.06" y1="272.00" x2="266.06" y2="274.40" stroke="#111" stroke-width="0.8"/>
<line x1="267.08" y1="272.00" x2="267.08" y2="274.40" stroke="#111" stroke-width="0.8"/>
<line x1="267.99" y1="272.00" x2="267.99" y2="274.40" stroke="#111" stroke-width="0.8"/>
<line x1="268.80" y1="272.00" x2="268.80" y2="275.40" stroke="#111" stroke-width="1.0"/>
<line x1="274.13" y1="272.00" x2="274.13" y2="274.40" stroke="#111" stroke-width="0.8"/>
<line x1="277.25" y1="272.00" x2="277.25" y2="274.40" stroke="#111" stroke-width="0.8"/>
<line x1="279.46" y1="272.00" x2="279.46" y2="274.40" stroke="#111" stroke-width="0.8"/>
<line x1="281.17" y1="272.00" x2="281.17" y2="274.40" stroke="#111" stroke-width="0.8"/>
<line x1="282.57" y1="272.00" x2="282.57" y2="274.40" stroke="#111" stroke-width="0.8"/>
<line x1="283.76" y1="272.00" x2="283.76" y2="274.40" stroke="#111" stroke-width="0.8"/>
<line x1="284.78" y1="272.00" x2="284.78" y2="274.40" stroke="#111" stroke-width="0.8"/>
<line x1="285.69" y1="272.00" x2="285.69" y2="274.40" stroke="#111" stroke-width="0.8"/>
<line x1="286.50" y1="272.00" x2="286.50" y2="275.40" stroke="#111" stroke-width="1.0"/>
<line x1="291.83" y1="272.00" x2="291.83" y2="274.40" stroke="#111" stroke-width="0.8"/>
<line x1="294.95" y1="272.00" x2="294.95" y2="274.40" stroke="#111" stroke-width="0.8"/>
<line x1="297.16" y1="272.00" x2="297.16" y2="274.40" stroke="#111" stroke-width="0.8"/>
<line x1="298.87" y1="272.00" x2="298.87" y2="274.40" stroke="#111" stroke-width="0.8"/>
<line x1="300.27" y1="272.00" x2="300.27" y2="274.40" stroke="#111" stroke-width="0.8"/>
<line x1="301.46" y1="272.00" x2="301.46" y2="274.40" stroke="#111" stroke-width="0.8"/>
<line x1="302.48" y1="272.00" x2="302.48" y2="274.40" stroke="#111" stroke-width="0.8"/>
<line x1="303.39" y1="272.00" x2="303.39" y2="274.40" stroke="#111" stroke-width="0.8"/>
<line x1="304.20" y1="272.00" x2="304.20" y2="275.40" stroke="#111" stroke-width="1.0"/>
<line x1="309.53" y1="272.00" x2="309.53" y2="274.40" stroke="#111" stroke-width="0.8"/>
<text x="230.50" y="285.00" font-size="8.5" fill="#111">10<tspan font-size="4.6" dy="-3.3" dx="0.4">1</tspan></text>
<text x="248.20" y="285.00" font-size="8.5" fill="#111">10<tspan font-size="4.6" dy="-3.3" dx="0.4">2</tspan></text>
<text x="265.90" y="285.00" font-size="8.5" fill="#111">10<tspan font-size="4.6" dy="-3.3" dx="0.4">3</tspan></text>
<text x="283.60" y="285.00" font-size="8.5" fill="#111">10<tspan font-size="4.6" dy="-3.3" dx="0.4">4</tspan></text>
<text x="301.30" y="285.00" font-size="8.5" fill="#111">10<tspan font-size="4.6" dy="-3.3" dx="0.4">5</tspan></text>
<text x="268.35" y="297.60" font-size="10" text-anchor="middle" textLength="18" lengthAdjust="spacingAndGlyphs" style="stroke-width:0.45px">CFSE</text>
<text x="195.60" y="229.80" font-size="10.5" text-anchor="middle" transform="rotate(-90 195.60 229.80)" textLength="19.5" lengthAdjust="spacingAndGlyphs" style="stroke-width:0.45px">Count</text>
<line x1="223.70" y1="231.50" x2="280.50" y2="231.50" stroke="#111" stroke-width="1.2"/>
<line x1="280.50" y1="229.20" x2="280.50" y2="233.80" stroke="#111" stroke-width="1.2"/>
<text x="240.70" y="224.60" font-size="8.7" text-anchor="start" style="stroke-width:0.12px">61.4%</text>
<rect x="357.8" y="185.5" width="87.30000000000001" height="87.89999999999998" fill="none" stroke="#111" stroke-width="1.4"/>
<polygon points="357.7,273.0 366.4,272.2 371.6,271.5 378.5,271.6 383.7,272.4 390.6,271.6 394.1,270.6 397.5,269.9 401.0,270.8 406.2,272.0 411.4,272.4 414.8,271.1 416.6,263.3 418.0,239.1 419.2,213.2 420.4,194.1 421.1,191.5 422.1,197.6 423.8,216.6 426.1,239.1 428.3,258.2 428.9,259.0 429.5,260.8 430.1,261.6 431.3,261.8 432.5,262.0 433.1,263.3 433.6,263.9 434.2,265.1 436.0,271.5 437.0,273.0" fill="#c8102e" stroke="#111" stroke-width="1.1" stroke-linejoin="round"/>
<line x1="354.40" y1="273.40" x2="357.80" y2="273.40" stroke="#111" stroke-width="1.05"/>
<line x1="354.40" y1="266.28" x2="357.80" y2="266.28" stroke="#111" stroke-width="1.05"/>
<line x1="354.40" y1="259.16" x2="357.80" y2="259.16" stroke="#111" stroke-width="1.05"/>
<line x1="354.40" y1="252.04" x2="357.80" y2="252.04" stroke="#111" stroke-width="1.05"/>
<line x1="354.40" y1="244.92" x2="357.80" y2="244.92" stroke="#111" stroke-width="1.05"/>
<line x1="354.40" y1="237.80" x2="357.80" y2="237.80" stroke="#111" stroke-width="1.05"/>
<line x1="354.40" y1="230.68" x2="357.80" y2="230.68" stroke="#111" stroke-width="1.05"/>
<line x1="354.40" y1="223.56" x2="357.80" y2="223.56" stroke="#111" stroke-width="1.05"/>
<line x1="354.40" y1="216.44" x2="357.80" y2="216.44" stroke="#111" stroke-width="1.05"/>
<line x1="354.40" y1="209.32" x2="357.80" y2="209.32" stroke="#111" stroke-width="1.05"/>
<line x1="354.40" y1="202.20" x2="357.80" y2="202.20" stroke="#111" stroke-width="1.05"/>
<line x1="354.40" y1="195.08" x2="357.80" y2="195.08" stroke="#111" stroke-width="1.05"/>
<line x1="354.40" y1="187.96" x2="357.80" y2="187.96" stroke="#111" stroke-width="1.05"/>
<line x1="353.50" y1="273.40" x2="357.80" y2="273.40" stroke="#111" stroke-width="1.2"/>
<text x="0" y="0" font-size="8.6" text-anchor="end" transform="translate(351.10 276.40) scale(1.0 1)">0</text>
<line x1="353.50" y1="252.00" x2="357.80" y2="252.00" stroke="#111" stroke-width="1.2"/>
<text x="0" y="0" font-size="8.6" text-anchor="end" transform="translate(351.10 255.00) scale(1.0 1)">300</text>
<line x1="353.50" y1="230.60" x2="357.80" y2="230.60" stroke="#111" stroke-width="1.2"/>
<text x="0" y="0" font-size="8.6" text-anchor="end" transform="translate(351.10 233.60) scale(1.0 1)">600</text>
<line x1="353.50" y1="209.30" x2="357.80" y2="209.30" stroke="#111" stroke-width="1.2"/>
<text x="0" y="0" font-size="8.6" text-anchor="end" transform="translate(351.10 212.30) scale(1.0 1)">900</text>
<line x1="353.50" y1="187.80" x2="357.80" y2="187.80" stroke="#111" stroke-width="1.2"/>
<text x="0" y="0" font-size="8.6" text-anchor="end" transform="translate(351.10 190.80) scale(1.0 1)">1.2K</text>
<line x1="360.46" y1="273.40" x2="360.46" y2="275.80" stroke="#111" stroke-width="0.8"/>
<line x1="362.17" y1="273.40" x2="362.17" y2="275.80" stroke="#111" stroke-width="0.8"/>
<line x1="363.57" y1="273.40" x2="363.57" y2="275.80" stroke="#111" stroke-width="0.8"/>
<line x1="364.76" y1="273.40" x2="364.76" y2="275.80" stroke="#111" stroke-width="0.8"/>
<line x1="365.78" y1="273.40" x2="365.78" y2="275.80" stroke="#111" stroke-width="0.8"/>
<line x1="366.69" y1="273.40" x2="366.69" y2="275.80" stroke="#111" stroke-width="0.8"/>
<line x1="367.50" y1="273.40" x2="367.50" y2="276.80" stroke="#111" stroke-width="1.0"/>
<line x1="372.83" y1="273.40" x2="372.83" y2="275.80" stroke="#111" stroke-width="0.8"/>
<line x1="375.95" y1="273.40" x2="375.95" y2="275.80" stroke="#111" stroke-width="0.8"/>
<line x1="378.16" y1="273.40" x2="378.16" y2="275.80" stroke="#111" stroke-width="0.8"/>
<line x1="379.87" y1="273.40" x2="379.87" y2="275.80" stroke="#111" stroke-width="0.8"/>
<line x1="381.27" y1="273.40" x2="381.27" y2="275.80" stroke="#111" stroke-width="0.8"/>
<line x1="382.46" y1="273.40" x2="382.46" y2="275.80" stroke="#111" stroke-width="0.8"/>
<line x1="383.48" y1="273.40" x2="383.48" y2="275.80" stroke="#111" stroke-width="0.8"/>
<line x1="384.39" y1="273.40" x2="384.39" y2="275.80" stroke="#111" stroke-width="0.8"/>
<line x1="385.20" y1="273.40" x2="385.20" y2="276.80" stroke="#111" stroke-width="1.0"/>
<line x1="390.53" y1="273.40" x2="390.53" y2="275.80" stroke="#111" stroke-width="0.8"/>
<line x1="393.65" y1="273.40" x2="393.65" y2="275.80" stroke="#111" stroke-width="0.8"/>
<line x1="395.86" y1="273.40" x2="395.86" y2="275.80" stroke="#111" stroke-width="0.8"/>
<line x1="397.57" y1="273.40" x2="397.57" y2="275.80" stroke="#111" stroke-width="0.8"/>
<line x1="398.97" y1="273.40" x2="398.97" y2="275.80" stroke="#111" stroke-width="0.8"/>
<line x1="400.16" y1="273.40" x2="400.16" y2="275.80" stroke="#111" stroke-width="0.8"/>
<line x1="401.18" y1="273.40" x2="401.18" y2="275.80" stroke="#111" stroke-width="0.8"/>
<line x1="402.09" y1="273.40" x2="402.09" y2="275.80" stroke="#111" stroke-width="0.8"/>
<line x1="402.90" y1="273.40" x2="402.90" y2="276.80" stroke="#111" stroke-width="1.0"/>
<line x1="408.23" y1="273.40" x2="408.23" y2="275.80" stroke="#111" stroke-width="0.8"/>
<line x1="411.35" y1="273.40" x2="411.35" y2="275.80" stroke="#111" stroke-width="0.8"/>
<line x1="413.56" y1="273.40" x2="413.56" y2="275.80" stroke="#111" stroke-width="0.8"/>
<line x1="415.27" y1="273.40" x2="415.27" y2="275.80" stroke="#111" stroke-width="0.8"/>
<line x1="416.67" y1="273.40" x2="416.67" y2="275.80" stroke="#111" stroke-width="0.8"/>
<line x1="417.86" y1="273.40" x2="417.86" y2="275.80" stroke="#111" stroke-width="0.8"/>
<line x1="418.88" y1="273.40" x2="418.88" y2="275.80" stroke="#111" stroke-width="0.8"/>
<line x1="419.79" y1="273.40" x2="419.79" y2="275.80" stroke="#111" stroke-width="0.8"/>
<line x1="420.60" y1="273.40" x2="420.60" y2="276.80" stroke="#111" stroke-width="1.0"/>
<line x1="425.93" y1="273.40" x2="425.93" y2="275.80" stroke="#111" stroke-width="0.8"/>
<line x1="429.05" y1="273.40" x2="429.05" y2="275.80" stroke="#111" stroke-width="0.8"/>
<line x1="431.26" y1="273.40" x2="431.26" y2="275.80" stroke="#111" stroke-width="0.8"/>
<line x1="432.97" y1="273.40" x2="432.97" y2="275.80" stroke="#111" stroke-width="0.8"/>
<line x1="434.37" y1="273.40" x2="434.37" y2="275.80" stroke="#111" stroke-width="0.8"/>
<line x1="435.56" y1="273.40" x2="435.56" y2="275.80" stroke="#111" stroke-width="0.8"/>
<line x1="436.58" y1="273.40" x2="436.58" y2="275.80" stroke="#111" stroke-width="0.8"/>
<line x1="437.49" y1="273.40" x2="437.49" y2="275.80" stroke="#111" stroke-width="0.8"/>
<line x1="438.30" y1="273.40" x2="438.30" y2="276.80" stroke="#111" stroke-width="1.0"/>
<line x1="443.63" y1="273.40" x2="443.63" y2="275.80" stroke="#111" stroke-width="0.8"/>
<text x="364.60" y="286.40" font-size="8.5" fill="#111">10<tspan font-size="4.6" dy="-3.3" dx="0.4">1</tspan></text>
<text x="382.30" y="286.40" font-size="8.5" fill="#111">10<tspan font-size="4.6" dy="-3.3" dx="0.4">2</tspan></text>
<text x="400.00" y="286.40" font-size="8.5" fill="#111">10<tspan font-size="4.6" dy="-3.3" dx="0.4">3</tspan></text>
<text x="417.70" y="286.40" font-size="8.5" fill="#111">10<tspan font-size="4.6" dy="-3.3" dx="0.4">4</tspan></text>
<text x="435.40" y="286.40" font-size="8.5" fill="#111">10<tspan font-size="4.6" dy="-3.3" dx="0.4">5</tspan></text>
<text x="402.15" y="299.00" font-size="10" text-anchor="middle" textLength="18" lengthAdjust="spacingAndGlyphs" style="stroke-width:0.45px">CFSE</text>
<text x="329.00" y="231.30" font-size="10.5" text-anchor="middle" transform="rotate(-90 329.00 231.30)" textLength="19.5" lengthAdjust="spacingAndGlyphs" style="stroke-width:0.45px">Count</text>
<line x1="357.80" y1="232.40" x2="414.00" y2="232.40" stroke="#111" stroke-width="1.2"/>
<line x1="414.00" y1="230.10" x2="414.00" y2="234.70" stroke="#111" stroke-width="1.2"/>
<text x="374.70" y="225.60" font-size="8.7" text-anchor="start" style="stroke-width:0.12px">18.9%</text>
<text x="39.2" y="20.8" font-size="13.2" font-weight="bold" fill="#111">A</text>
<text x="39.2" y="180.8" font-size="13.2" font-weight="bold" fill="#111">B</text>
<text x="41.00" y="79.80" font-size="11" text-anchor="middle" textLength="14" lengthAdjust="spacingAndGlyphs" style="stroke-width:0.45px">Pre-</text>
<text x="40.00" y="93.50" font-size="11" text-anchor="middle" textLength="12" lengthAdjust="spacingAndGlyphs" style="stroke-width:0.45px">KTx</text>
<text x="39.10" y="226.40" font-size="11" text-anchor="middle" textLength="17.2" lengthAdjust="spacingAndGlyphs" style="stroke-width:0.45px">Post-</text>
<text x="36.40" y="240.00" font-size="11" text-anchor="middle" textLength="11.8" lengthAdjust="spacingAndGlyphs" style="stroke-width:0.45px">KTx</text>
<text x="133.50" y="18.80" font-size="11" text-anchor="middle" style="stroke-width:0px">T cells</text>
<text x="133.50" y="32.20" font-size="11" text-anchor="middle" style="stroke-width:0px">(100K)</text>
<text x="267.20" y="18.80" font-size="11" text-anchor="middle" style="stroke-width:0px">T + TCB</text>
<text x="267.20" y="32.20" font-size="11" text-anchor="middle" style="stroke-width:0px">(128:1)</text>
<text x="402.50" y="18.80" font-size="11" text-anchor="middle" style="stroke-width:0px">+ MDSC</text>
<text x="402.50" y="32.20" font-size="11" text-anchor="middle" style="stroke-width:0px">(50K)</text>
<line x1="115.80" y1="342.10" x2="115.80" y2="426.20" stroke="#111" stroke-width="1.5"/>
<line x1="115.10" y1="425.50" x2="240.60" y2="425.50" stroke="#111" stroke-width="1.5"/>
<line x1="111.80" y1="425.50" x2="115.80" y2="425.50" stroke="#111" stroke-width="1.1"/>
<text x="108.40" y="428.60" font-size="8.5" text-anchor="end">0</text>
<line x1="111.80" y1="417.22" x2="115.80" y2="417.22" stroke="#111" stroke-width="1.1"/>
<text x="108.40" y="420.32" font-size="8.5" text-anchor="end">10</text>
<line x1="111.80" y1="408.94" x2="115.80" y2="408.94" stroke="#111" stroke-width="1.1"/>
<text x="108.40" y="412.04" font-size="8.5" text-anchor="end">20</text>
<line x1="111.80" y1="400.66" x2="115.80" y2="400.66" stroke="#111" stroke-width="1.1"/>
<text x="108.40" y="403.76" font-size="8.5" text-anchor="end">30</text>
<line x1="111.80" y1="392.38" x2="115.80" y2="392.38" stroke="#111" stroke-width="1.1"/>
<text x="108.40" y="395.48" font-size="8.5" text-anchor="end">40</text>
<line x1="111.80" y1="384.10" x2="115.80" y2="384.10" stroke="#111" stroke-width="1.1"/>
<text x="108.40" y="387.20" font-size="8.5" text-anchor="end">50</text>
<line x1="111.80" y1="375.82" x2="115.80" y2="375.82" stroke="#111" stroke-width="1.1"/>
<text x="108.40" y="378.92" font-size="8.5" text-anchor="end">60</text>
<line x1="111.80" y1="367.54" x2="115.80" y2="367.54" stroke="#111" stroke-width="1.1"/>
<text x="108.40" y="370.64" font-size="8.5" text-anchor="end">70</text>
<line x1="111.80" y1="359.26" x2="115.80" y2="359.26" stroke="#111" stroke-width="1.1"/>
<text x="108.40" y="362.36" font-size="8.5" text-anchor="end">80</text>
<line x1="111.80" y1="350.98" x2="115.80" y2="350.98" stroke="#111" stroke-width="1.1"/>
<text x="108.40" y="354.08" font-size="8.5" text-anchor="end">90</text>
<line x1="111.80" y1="342.70" x2="115.80" y2="342.70" stroke="#111" stroke-width="1.1"/>
<text x="108.40" y="345.80" font-size="8.5" text-anchor="end">100</text>
<line x1="136.20" y1="425.50" x2="136.20" y2="428.70" stroke="#111" stroke-width="1.1"/>
<line x1="177.30" y1="425.50" x2="177.30" y2="428.70" stroke="#111" stroke-width="1.1"/>
<line x1="218.80" y1="425.50" x2="218.80" y2="428.70" stroke="#111" stroke-width="1.1"/>
<text x="127.80" y="439.40" font-size="8.8" text-anchor="middle" textLength="30.5" lengthAdjust="spacingAndGlyphs" style="stroke-width:0.1px">Pre-KTx</text>
<text x="170.60" y="439.40" font-size="8.8" text-anchor="middle" textLength="34.2" lengthAdjust="spacingAndGlyphs" style="stroke-width:0.1px">1.5-4 mo</text>
<text x="215.10" y="439.40" font-size="8.8" text-anchor="middle" textLength="32.3" lengthAdjust="spacingAndGlyphs" style="stroke-width:0.1px">6-12 mo</text>
<line x1="122.70" y1="411.00" x2="149.70" y2="411.00" stroke="#3a4b63" stroke-width="1.45"/>
<line x1="136.20" y1="407.30" x2="136.20" y2="415.00" stroke="#3a4b63" stroke-width="1.4"/>
<line x1="128.20" y1="407.30" x2="144.20" y2="407.30" stroke="#3a4b63" stroke-width="1.4"/>
<line x1="128.20" y1="415.00" x2="144.20" y2="415.00" stroke="#3a4b63" stroke-width="1.4"/>
<line x1="163.80" y1="368.40" x2="191.20" y2="368.40" stroke="#3a4b63" stroke-width="1.45"/>
<line x1="177.50" y1="365.00" x2="177.50" y2="371.90" stroke="#3a4b63" stroke-width="1.4"/>
<line x1="169.70" y1="365.00" x2="185.30" y2="365.00" stroke="#3a4b63" stroke-width="1.4"/>
<line x1="169.70" y1="371.90" x2="185.30" y2="371.90" stroke="#3a4b63" stroke-width="1.4"/>
<line x1="205.30" y1="412.90" x2="232.70" y2="412.90" stroke="#3a4b63" stroke-width="1.45"/>
<line x1="219.00" y1="407.30" x2="219.00" y2="419.50" stroke="#3a4b63" stroke-width="1.4"/>
<line x1="211.20" y1="407.30" x2="226.80" y2="407.30" stroke="#3a4b63" stroke-width="1.4"/>
<line x1="211.20" y1="419.50" x2="226.80" y2="419.50" stroke="#3a4b63" stroke-width="1.4"/>
<rect x="123.90" y="387.70" width="6.2" height="6.2" fill="none" stroke="#1f65a6" stroke-width="1.2"/>
<rect x="133.10" y="397.60" width="6.2" height="6.2" fill="none" stroke="#1f65a6" stroke-width="1.2"/>
<rect x="133.10" y="408.60" width="6.2" height="6.2" fill="none" stroke="#1f65a6" stroke-width="1.2"/>
<rect x="136.40" y="420.20" width="6.2" height="6.2" fill="none" stroke="#1f65a6" stroke-width="1.2"/>
<circle cx="149.60" cy="398.40" r="2.9" fill="none" stroke="#cc1f30" stroke-width="1.25"/>
<circle cx="145.00" cy="406.40" r="2.9" fill="none" stroke="#cc1f30" stroke-width="1.25"/>
<circle cx="127.10" cy="411.20" r="2.9" fill="none" stroke="#cc1f30" stroke-width="1.25"/>
<circle cx="125.70" cy="420.60" r="2.9" fill="none" stroke="#cc1f30" stroke-width="1.25"/>
<circle cx="132.80" cy="425.00" r="2.9" fill="none" stroke="#cc1f30" stroke-width="1.25"/>
<circle cx="146.60" cy="419.90" r="2.9" fill="none" stroke="#cc1f30" stroke-width="1.25"/>
<rect x="165.50" y="352.50" width="6.2" height="6.2" fill="none" stroke="#1f65a6" stroke-width="1.2"/>
<rect x="174.70" y="354.30" width="6.2" height="6.2" fill="none" stroke="#1f65a6" stroke-width="1.2"/>
<rect x="182.90" y="349.00" width="7.4" height="7.4" fill="#5a2a80"/>
<rect x="179.90" y="359.10" width="7.4" height="7.4" fill="#5a2a80"/>
<rect x="171.40" y="365.50" width="7.4" height="7.4" fill="#5a2a80"/>
<rect x="163.40" y="369.90" width="7.4" height="7.4" fill="#5a2a80"/>
<rect x="184.20" y="370.90" width="7.4" height="7.4" fill="#5a2a80"/>
<rect x="177.20" y="379.30" width="7.4" height="7.4" fill="#5a2a80"/>
<circle cx="170.20" cy="364.30" r="3.5" fill="#3cb54a"/>
<circle cx="172.50" cy="362.80" r="3.5" fill="#3cb54a"/>
<circle cx="179.90" cy="365.50" r="3.5" fill="#3cb54a"/>
<circle cx="174.50" cy="374.30" r="3.5" fill="#3cb54a"/>
<circle cx="177.50" cy="400.30" r="3.5" fill="#3cb54a"/>
<rect x="215.10" y="373.80" width="7.4" height="7.4" fill="#5a2a80"/>
<rect x="215.10" y="395.10" width="7.4" height="7.4" fill="#5a2a80"/>
<circle cx="213.80" cy="408.00" r="3.5" fill="#3cb54a"/>
<circle cx="223.80" cy="410.50" r="3.5" fill="#3cb54a"/>
<rect x="211.40" y="420.40" width="6.2" height="6.2" fill="none" stroke="#1f65a6" stroke-width="1.2"/>
<circle cx="210.00" cy="424.50" r="3.5" fill="#3cb54a"/>
<rect x="216.30" y="421.30" width="7.4" height="7.4" fill="#5a2a80"/>
<rect x="223.80" y="421.30" width="7.4" height="7.4" fill="#5a2a80"/>
<text x="178.60" y="322.50" font-size="11" text-anchor="middle" font-style="italic" style="stroke-width:0.1px">ns</text>
<line x1="132.70" y1="325.70" x2="223.40" y2="325.70" stroke="#111" stroke-width="1.5"/>
<line x1="131.00" y1="339.00" x2="182.80" y2="339.00" stroke="#111" stroke-width="1.5"/>
<line x1="178.80" y1="335.80" x2="230.30" y2="335.80" stroke="#111" stroke-width="1.5"/>
<text x="155.50" y="340.10" font-size="10.5" text-anchor="middle" letter-spacing="0.3" style="stroke-width:0.15px">***</text>
<text x="203.00" y="336.70" font-size="10.5" text-anchor="middle" letter-spacing="0.3" style="stroke-width:0.15px">***</text>
<text x="67.3" y="324.9" font-size="13.2" font-weight="bold" fill="#111">C</text>
<text x="66.90" y="382.80" font-size="10.5" text-anchor="middle" textLength="13.8" lengthAdjust="spacingAndGlyphs" style="stroke-width:0.45px">CD4</text>
<text x="86.30" y="380.20" font-size="10.5" text-anchor="middle" transform="rotate(-90 86.30 380.20)" textLength="56.5" lengthAdjust="spacingAndGlyphs" style="stroke-width:0.4px">Suppression (%)</text>
<line x1="299.40" y1="342.60" x2="299.40" y2="426.10" stroke="#111" stroke-width="1.5"/>
<line x1="298.70" y1="425.40" x2="423.50" y2="425.40" stroke="#111" stroke-width="1.5"/>
<line x1="295.40" y1="425.40" x2="299.40" y2="425.40" stroke="#111" stroke-width="1.1"/>
<text x="292.00" y="428.50" font-size="8.5" text-anchor="end">0</text>
<line x1="295.40" y1="417.18" x2="299.40" y2="417.18" stroke="#111" stroke-width="1.1"/>
<text x="292.00" y="420.28" font-size="8.5" text-anchor="end">10</text>
<line x1="295.40" y1="408.96" x2="299.40" y2="408.96" stroke="#111" stroke-width="1.1"/>
<text x="292.00" y="412.06" font-size="8.5" text-anchor="end">20</text>
<line x1="295.40" y1="400.74" x2="299.40" y2="400.74" stroke="#111" stroke-width="1.1"/>
<text x="292.00" y="403.84" font-size="8.5" text-anchor="end">30</text>
<line x1="295.40" y1="392.52" x2="299.40" y2="392.52" stroke="#111" stroke-width="1.1"/>
<text x="292.00" y="395.62" font-size="8.5" text-anchor="end">40</text>
<line x1="295.40" y1="384.30" x2="299.40" y2="384.30" stroke="#111" stroke-width="1.1"/>
<text x="292.00" y="387.40" font-size="8.5" text-anchor="end">50</text>
<line x1="295.40" y1="376.08" x2="299.40" y2="376.08" stroke="#111" stroke-width="1.1"/>
<text x="292.00" y="379.18" font-size="8.5" text-anchor="end">60</text>
<line x1="295.40" y1="367.86" x2="299.40" y2="367.86" stroke="#111" stroke-width="1.1"/>
<text x="292.00" y="370.96" font-size="8.5" text-anchor="end">70</text>
<line x1="295.40" y1="359.64" x2="299.40" y2="359.64" stroke="#111" stroke-width="1.1"/>
<text x="292.00" y="362.74" font-size="8.5" text-anchor="end">80</text>
<line x1="295.40" y1="351.42" x2="299.40" y2="351.42" stroke="#111" stroke-width="1.1"/>
<text x="292.00" y="354.52" font-size="8.5" text-anchor="end">90</text>
<line x1="295.40" y1="343.20" x2="299.40" y2="343.20" stroke="#111" stroke-width="1.1"/>
<text x="292.00" y="346.30" font-size="8.5" text-anchor="end">100</text>
<line x1="320.00" y1="425.40" x2="320.00" y2="428.60" stroke="#111" stroke-width="1.1"/>
<line x1="361.30" y1="425.40" x2="361.30" y2="428.60" stroke="#111" stroke-width="1.1"/>
<line x1="402.50" y1="425.40" x2="402.50" y2="428.60" stroke="#111" stroke-width="1.1"/>
<text x="311.40" y="439.30" font-size="8.8" text-anchor="middle" textLength="30.5" lengthAdjust="spacingAndGlyphs" style="stroke-width:0.1px">Pre-KTx</text>
<text x="354.20" y="439.30" font-size="8.8" text-anchor="middle" textLength="34.2" lengthAdjust="spacingAndGlyphs" style="stroke-width:0.1px">1.5-4 mo</text>
<text x="398.70" y="439.30" font-size="8.8" text-anchor="middle" textLength="32.3" lengthAdjust="spacingAndGlyphs" style="stroke-width:0.1px">6-12 mo</text>
<line x1="306.30" y1="410.00" x2="333.70" y2="410.00" stroke="#3a4b63" stroke-width="1.45"/>
<line x1="320.00" y1="406.30" x2="320.00" y2="414.00" stroke="#3a4b63" stroke-width="1.4"/>
<line x1="312.20" y1="406.30" x2="327.80" y2="406.30" stroke="#3a4b63" stroke-width="1.4"/>
<line x1="312.20" y1="414.00" x2="327.80" y2="414.00" stroke="#3a4b63" stroke-width="1.4"/>
<line x1="347.60" y1="368.30" x2="375.00" y2="368.30" stroke="#3a4b63" stroke-width="1.45"/>
<line x1="361.30" y1="365.00" x2="361.30" y2="372.50" stroke="#3a4b63" stroke-width="1.4"/>
<line x1="353.50" y1="365.00" x2="369.10" y2="365.00" stroke="#3a4b63" stroke-width="1.4"/>
<line x1="353.50" y1="372.50" x2="369.10" y2="372.50" stroke="#3a4b63" stroke-width="1.4"/>
<line x1="388.80" y1="414.00" x2="416.20" y2="414.00" stroke="#3a4b63" stroke-width="1.45"/>
<line x1="402.50" y1="410.00" x2="402.50" y2="419.50" stroke="#3a4b63" stroke-width="1.4"/>
<line x1="394.70" y1="410.00" x2="410.30" y2="410.00" stroke="#3a4b63" stroke-width="1.4"/>
<line x1="394.70" y1="419.50" x2="410.30" y2="419.50" stroke="#3a4b63" stroke-width="1.4"/>
<circle cx="324.50" cy="392.50" r="2.9" fill="none" stroke="#cc1f30" stroke-width="1.25"/>
<circle cx="315.00" cy="395.50" r="2.9" fill="none" stroke="#cc1f30" stroke-width="1.25"/>
<circle cx="309.50" cy="400.00" r="2.9" fill="none" stroke="#cc1f30" stroke-width="1.25"/>
<circle cx="317.00" cy="405.50" r="2.9" fill="none" stroke="#cc1f30" stroke-width="1.25"/>
<rect x="326.90" y="399.40" width="6.2" height="6.2" fill="none" stroke="#1f65a6" stroke-width="1.2"/>
<rect x="320.70" y="405.70" width="6.2" height="6.2" fill="none" stroke="#1f65a6" stroke-width="1.2"/>
<circle cx="330.00" cy="419.50" r="2.9" fill="none" stroke="#cc1f30" stroke-width="1.25"/>
<circle cx="309.50" cy="425.50" r="2.9" fill="none" stroke="#cc1f30" stroke-width="1.25"/>
<rect x="313.20" y="421.90" width="6.2" height="6.2" fill="none" stroke="#1f65a6" stroke-width="1.2"/>
<circle cx="323.00" cy="425.50" r="2.9" fill="none" stroke="#cc1f30" stroke-width="1.25"/>
<rect x="363.20" y="341.90" width="6.2" height="6.2" fill="none" stroke="#1f65a6" stroke-width="1.2"/>
<rect x="353.20" y="345.70" width="6.2" height="6.2" fill="none" stroke="#1f65a6" stroke-width="1.2"/>
<rect x="346.80" y="350.80" width="7.4" height="7.4" fill="#5a2a80"/>
<rect x="369.30" y="353.30" width="7.4" height="7.4" fill="#5a2a80"/>
<circle cx="358.00" cy="360.00" r="3.5" fill="#3cb54a"/>
<rect x="361.80" y="356.80" width="7.4" height="7.4" fill="#5a2a80"/>
<circle cx="352.00" cy="368.00" r="3.5" fill="#3cb54a"/>
<rect x="366.80" y="365.80" width="7.4" height="7.4" fill="#5a2a80"/>
<circle cx="360.80" cy="372.00" r="3.5" fill="#3cb54a"/>
<circle cx="350.50" cy="377.00" r="3.5" fill="#3cb54a"/>
<rect x="369.30" y="377.10" width="7.4" height="7.4" fill="#5a2a80"/>
<rect x="353.30" y="379.30" width="7.4" height="7.4" fill="#5a2a80"/>
<rect x="361.30" y="380.80" width="7.4" height="7.4" fill="#5a2a80"/>
<circle cx="361.30" cy="399.30" r="3.5" fill="#3cb54a"/>
<rect x="398.80" y="390.60" width="7.4" height="7.4" fill="#5a2a80"/>
<rect x="407.60" y="396.30" width="7.4" height="7.4" fill="#5a2a80"/>
<circle cx="393.80" cy="400.50" r="3.5" fill="#3cb54a"/>
<circle cx="402.50" cy="408.80" r="3.5" fill="#3cb54a"/>
<rect x="390.10" y="421.80" width="7.4" height="7.4" fill="#5a2a80"/>
<circle cx="402.50" cy="425.00" r="3.5" fill="#3cb54a"/>
<circle cx="407.50" cy="425.50" r="3.5" fill="#3cb54a"/>
<rect x="407.40" y="421.90" width="6.2" height="6.2" fill="none" stroke="#1f65a6" stroke-width="1.2"/>
<text x="361.80" y="322.50" font-size="11" text-anchor="middle" font-style="italic" style="stroke-width:0.1px">ns</text>
<line x1="316.50" y1="325.70" x2="407.00" y2="325.70" stroke="#111" stroke-width="1.5"/>
<line x1="314.70" y1="339.30" x2="366.80" y2="339.30" stroke="#111" stroke-width="1.5"/>
<line x1="362.20" y1="336.30" x2="413.50" y2="336.30" stroke="#111" stroke-width="1.5"/>
<text x="339.00" y="340.40" font-size="10.5" text-anchor="middle" letter-spacing="0.3" style="stroke-width:0.15px">***</text>
<text x="386.50" y="337.20" font-size="10.5" text-anchor="middle" letter-spacing="0.3" style="stroke-width:0.15px">***</text>
<text x="256" y="325.6" font-size="13.2" font-weight="bold" fill="#111">D</text>
<text x="256.40" y="386.70" font-size="10.5" text-anchor="middle" textLength="13.7" lengthAdjust="spacingAndGlyphs" style="stroke-width:0.45px">CD8</text>
<text x="275.00" y="382.90" font-size="10.5" text-anchor="middle" transform="rotate(-90 275.00 382.90)" textLength="56.5" lengthAdjust="spacingAndGlyphs" style="stroke-width:0.4px">Suppression (%)</text>
<line x1="111.50" y1="484.10" x2="111.50" y2="567.70" stroke="#111" stroke-width="1.5"/>
<line x1="110.80" y1="567.00" x2="235.20" y2="567.00" stroke="#111" stroke-width="1.5"/>
<line x1="107.30" y1="567.00" x2="111.50" y2="567.00" stroke="#111" stroke-width="1.1"/>
<text x="102.90" y="570.10" font-size="8.6" text-anchor="end">0</text>
<line x1="107.30" y1="550.56" x2="111.50" y2="550.56" stroke="#111" stroke-width="1.1"/>
<text x="102.90" y="553.66" font-size="8.6" text-anchor="end">20</text>
<line x1="107.30" y1="534.12" x2="111.50" y2="534.12" stroke="#111" stroke-width="1.1"/>
<text x="102.90" y="537.22" font-size="8.6" text-anchor="end">40</text>
<line x1="107.30" y1="517.68" x2="111.50" y2="517.68" stroke="#111" stroke-width="1.1"/>
<text x="102.90" y="520.78" font-size="8.6" text-anchor="end">60</text>
<line x1="107.30" y1="501.24" x2="111.50" y2="501.24" stroke="#111" stroke-width="1.1"/>
<text x="102.90" y="504.34" font-size="8.6" text-anchor="end">80</text>
<line x1="107.30" y1="484.80" x2="111.50" y2="484.80" stroke="#111" stroke-width="1.1"/>
<text x="102.90" y="487.90" font-size="8.6" text-anchor="end">100</text>
<line x1="111.50" y1="567.00" x2="111.50" y2="570.50" stroke="#111" stroke-width="1.1"/>
<text x="112.80" y="579.20" font-size="8.6" text-anchor="middle">0</text>
<line x1="136.24" y1="567.00" x2="136.24" y2="570.50" stroke="#111" stroke-width="1.1"/>
<text x="137.54" y="579.20" font-size="8.6" text-anchor="middle">20</text>
<line x1="160.98" y1="567.00" x2="160.98" y2="570.50" stroke="#111" stroke-width="1.1"/>
<text x="162.28" y="579.20" font-size="8.6" text-anchor="middle">40</text>
<line x1="185.72" y1="567.00" x2="185.72" y2="570.50" stroke="#111" stroke-width="1.1"/>
<text x="187.02" y="579.20" font-size="8.6" text-anchor="middle">60</text>
<line x1="210.46" y1="567.00" x2="210.46" y2="570.50" stroke="#111" stroke-width="1.1"/>
<text x="211.76" y="579.20" font-size="8.6" text-anchor="middle">80</text>
<line x1="235.20" y1="567.00" x2="235.20" y2="570.50" stroke="#111" stroke-width="1.1"/>
<text x="236.50" y="579.20" font-size="8.6" text-anchor="middle">100</text>
<circle cx="220.20" cy="488.10" r="3.2" fill="#3cb54a"/>
<circle cx="216.30" cy="495.40" r="3.2" fill="#3cb54a"/>
<circle cx="206.30" cy="503.70" r="3.2" fill="#3cb54a"/>
<circle cx="148.50" cy="507.90" r="3.2" fill="#3cb54a"/>
<circle cx="202.90" cy="520.40" r="3.2" fill="#3cb54a"/>
<circle cx="111.00" cy="538.10" r="3.2" fill="#3cb54a"/>
<circle cx="131.20" cy="546.90" r="3.2" fill="#3cb54a"/>
<circle cx="132.70" cy="550.60" r="3.2" fill="#3cb54a"/>
<circle cx="187.90" cy="548.70" r="3.2" fill="#3cb54a"/>
<circle cx="212.50" cy="549.80" r="3.2" fill="#3cb54a"/>
<circle cx="111.00" cy="551.70" r="3.2" fill="#3cb54a"/>
<circle cx="148.10" cy="555.00" r="3.2" fill="#3cb54a"/>
<circle cx="136.90" cy="559.20" r="3.2" fill="#3cb54a"/>
<circle cx="162.90" cy="560.00" r="3.2" fill="#3cb54a"/>
<circle cx="111.00" cy="560.40" r="3.2" fill="#3cb54a"/>
<circle cx="112.90" cy="560.40" r="3.2" fill="#3cb54a"/>
<circle cx="118.70" cy="560.80" r="3.2" fill="#3cb54a"/>
<circle cx="182.70" cy="562.30" r="3.2" fill="#3cb54a"/>
<circle cx="133.10" cy="565.00" r="3.2" fill="#3cb54a"/>
<text x="65.8" y="472" font-size="13.2" font-weight="bold" fill="#111">E</text>
<text x="67.70" y="529.90" font-size="10.5" text-anchor="middle" textLength="13.4" lengthAdjust="spacingAndGlyphs" style="stroke-width:0.45px">CD4</text>
<text x="87.60" y="526.00" font-size="10.5" text-anchor="middle" transform="rotate(-90 87.60 526.00)" textLength="19.6" lengthAdjust="spacingAndGlyphs" style="stroke-width:0.45px">LOX-1</text>
<text x="171.80" y="593.40" font-size="10.5" text-anchor="middle" textLength="104.4" lengthAdjust="spacingAndGlyphs" style="stroke-width:0.25px">Percent Suppression by MDSC</text>
<text x="115.80" y="475.50" font-size="9.0" text-anchor="start" style="stroke-width:0.15px">r=0.5187</text>
<text x="115.80" y="484.10" font-size="9.0" text-anchor="start" style="stroke-width:0.15px">95% CI=0.070-0.793</text>
<text x="115.80" y="492.70" font-size="9.0" text-anchor="start" style="stroke-width:0.15px">p=0.0229</text>
<line x1="301.50" y1="484.10" x2="301.50" y2="567.70" stroke="#111" stroke-width="1.5"/>
<line x1="300.80" y1="567.00" x2="425.60" y2="567.00" stroke="#111" stroke-width="1.5"/>
<line x1="297.30" y1="567.00" x2="301.50" y2="567.00" stroke="#111" stroke-width="1.1"/>
<text x="295.30" y="570.10" font-size="8.6" text-anchor="end">0</text>
<line x1="297.30" y1="550.56" x2="301.50" y2="550.56" stroke="#111" stroke-width="1.1"/>
<text x="295.30" y="553.66" font-size="8.6" text-anchor="end">20</text>
<line x1="297.30" y1="534.12" x2="301.50" y2="534.12" stroke="#111" stroke-width="1.1"/>
<text x="295.30" y="537.22" font-size="8.6" text-anchor="end">40</text>
<line x1="297.30" y1="517.68" x2="301.50" y2="517.68" stroke="#111" stroke-width="1.1"/>
<text x="295.30" y="520.78" font-size="8.6" text-anchor="end">60</text>
<line x1="297.30" y1="501.24" x2="301.50" y2="501.24" stroke="#111" stroke-width="1.1"/>
<text x="295.30" y="504.34" font-size="8.6" text-anchor="end">80</text>
<line x1="297.30" y1="484.80" x2="301.50" y2="484.80" stroke="#111" stroke-width="1.1"/>
<text x="295.30" y="487.90" font-size="8.6" text-anchor="end">100</text>
<line x1="301.50" y1="567.00" x2="301.50" y2="570.50" stroke="#111" stroke-width="1.1"/>
<text x="302.80" y="579.20" font-size="8.6" text-anchor="middle">0</text>
<line x1="326.30" y1="567.00" x2="326.30" y2="570.50" stroke="#111" stroke-width="1.1"/>
<text x="327.60" y="579.20" font-size="8.6" text-anchor="middle">20</text>
<line x1="351.10" y1="567.00" x2="351.10" y2="570.50" stroke="#111" stroke-width="1.1"/>
<text x="352.40" y="579.20" font-size="8.6" text-anchor="middle">40</text>
<line x1="375.90" y1="567.00" x2="375.90" y2="570.50" stroke="#111" stroke-width="1.1"/>
<text x="377.20" y="579.20" font-size="8.6" text-anchor="middle">60</text>
<line x1="400.70" y1="567.00" x2="400.70" y2="570.50" stroke="#111" stroke-width="1.1"/>
<text x="402.00" y="579.20" font-size="8.6" text-anchor="middle">80</text>
<line x1="425.50" y1="567.00" x2="425.50" y2="570.50" stroke="#111" stroke-width="1.1"/>
<text x="426.80" y="579.20" font-size="8.6" text-anchor="middle">100</text>
<circle cx="366.30" cy="488.10" r="3.2" fill="#3cb54a"/>
<circle cx="417.30" cy="495.40" r="3.2" fill="#3cb54a"/>
<circle cx="408.70" cy="503.70" r="3.2" fill="#3cb54a"/>
<circle cx="341.50" cy="507.90" r="3.2" fill="#3cb54a"/>
<circle cx="373.70" cy="520.40" r="3.2" fill="#3cb54a"/>
<circle cx="301.90" cy="537.70" r="3.2" fill="#3cb54a"/>
<circle cx="326.50" cy="547.30" r="3.2" fill="#3cb54a"/>
<circle cx="333.10" cy="550.20" r="3.2" fill="#3cb54a"/>
<circle cx="381.70" cy="548.70" r="3.2" fill="#3cb54a"/>
<circle cx="422.30" cy="549.80" r="3.2" fill="#3cb54a"/>
<circle cx="301.90" cy="551.50" r="3.2" fill="#3cb54a"/>
<circle cx="336.90" cy="555.40" r="3.2" fill="#3cb54a"/>
<circle cx="326.90" cy="559.40" r="3.2" fill="#3cb54a"/>
<circle cx="351.50" cy="560.00" r="3.2" fill="#3cb54a"/>
<circle cx="348.10" cy="561.70" r="3.2" fill="#3cb54a"/>
<circle cx="301.90" cy="559.80" r="3.2" fill="#3cb54a"/>
<circle cx="302.30" cy="561.20" r="3.2" fill="#3cb54a"/>
<circle cx="339.00" cy="565.20" r="3.2" fill="#3cb54a"/>
<text x="255" y="470.5" font-size="13.2" font-weight="bold" fill="#111">F</text>
<text x="260.10" y="529.00" font-size="10.5" text-anchor="middle" textLength="14.4" lengthAdjust="spacingAndGlyphs" style="stroke-width:0.45px">CD8</text>
<text x="279.90" y="526.00" font-size="10.5" text-anchor="middle" transform="rotate(-90 279.90 526.00)" textLength="19.6" lengthAdjust="spacingAndGlyphs" style="stroke-width:0.45px">LOX-1</text>
<text x="361.80" y="593.40" font-size="10.5" text-anchor="middle" textLength="104.4" lengthAdjust="spacingAndGlyphs" style="stroke-width:0.25px">Percent Suppression by MDSC</text>
<text x="306.20" y="475.50" font-size="9.0" text-anchor="start" style="stroke-width:0.15px">r=0.4958</text>
<text x="306.20" y="484.10" font-size="9.0" text-anchor="start" style="stroke-width:0.15px">95% CI=0.039-0.781</text>
<text x="306.20" y="492.70" font-size="9.0" text-anchor="start" style="stroke-width:0.15px">p=0.0309</text>
<rect x="53.33" y="686.30" width="7.8" height="38.70" fill="#14508a"/>
<line x1="57.23" y1="662.10" x2="57.23" y2="686.30" stroke="#2a2a2a" stroke-width="1.3"/>
<line x1="54.23" y1="662.40" x2="60.23" y2="662.40" stroke="#2a2a2a" stroke-width="1.8"/>
<rect x="63.36" y="693.80" width="7.8" height="31.20" fill="#3bb34a"/>
<line x1="67.26" y1="678.00" x2="67.26" y2="693.80" stroke="#2a2a2a" stroke-width="1.3"/>
<line x1="64.26" y1="678.30" x2="70.26" y2="678.30" stroke="#2a2a2a" stroke-width="1.8"/>
<rect x="73.39" y="723.90" width="7.8" height="1.10" fill="#4a1a6a"/>
<rect x="93.45" y="705.00" width="7.8" height="20.00" fill="#14508a"/>
<line x1="97.35" y1="695.40" x2="97.35" y2="705.00" stroke="#2a2a2a" stroke-width="1.3"/>
<line x1="94.35" y1="695.70" x2="100.35" y2="695.70" stroke="#2a2a2a" stroke-width="1.8"/>
<rect x="103.48" y="723.60" width="7.8" height="1.40" fill="#3bb34a"/>
<rect x="133.57" y="699.30" width="7.8" height="25.70" fill="#14508a"/>
<line x1="137.47" y1="680.80" x2="137.47" y2="699.30" stroke="#2a2a2a" stroke-width="1.3"/>
<line x1="134.47" y1="681.10" x2="140.47" y2="681.10" stroke="#2a2a2a" stroke-width="1.8"/>
<rect x="143.60" y="711.00" width="7.8" height="14.00" fill="#3bb34a"/>
<line x1="147.50" y1="698.60" x2="147.50" y2="711.00" stroke="#2a2a2a" stroke-width="1.3"/>
<line x1="144.50" y1="698.90" x2="150.50" y2="698.90" stroke="#2a2a2a" stroke-width="1.8"/>
<line x1="40.80" y1="642.30" x2="40.80" y2="725.80" stroke="#111" stroke-width="1.5"/>
<line x1="40.10" y1="725.00" x2="165.30" y2="725.00" stroke="#111" stroke-width="1.5"/>
<line x1="36.60" y1="725.00" x2="40.80" y2="725.00" stroke="#111" stroke-width="1.1"/>
<text x="33.10" y="728.40" font-size="8.6" text-anchor="end">0</text>
<line x1="36.60" y1="708.60" x2="40.80" y2="708.60" stroke="#111" stroke-width="1.1"/>
<text x="33.10" y="712.00" font-size="8.6" text-anchor="end">100</text>
<line x1="36.60" y1="692.20" x2="40.80" y2="692.20" stroke="#111" stroke-width="1.1"/>
<text x="33.10" y="695.60" font-size="8.6" text-anchor="end">200</text>
<line x1="36.60" y1="675.80" x2="40.80" y2="675.80" stroke="#111" stroke-width="1.1"/>
<text x="33.10" y="679.20" font-size="8.6" text-anchor="end">300</text>
<line x1="36.60" y1="659.40" x2="40.80" y2="659.40" stroke="#111" stroke-width="1.1"/>
<text x="33.10" y="662.80" font-size="8.6" text-anchor="end">400</text>
<line x1="36.60" y1="643.00" x2="40.80" y2="643.00" stroke="#111" stroke-width="1.1"/>
<text x="33.10" y="646.40" font-size="8.6" text-anchor="end">500</text>
<line x1="47.20" y1="725.00" x2="47.20" y2="728.20" stroke="#111" stroke-width="1.1"/>
<text x="50.90" y="731.00" font-size="10.2" text-anchor="end" transform="rotate(-90 50.90 731.00)" textLength="4.0" lengthAdjust="spacingAndGlyphs" style="stroke-width:0.45px">T</text>
<line x1="57.23" y1="725.00" x2="57.23" y2="728.20" stroke="#111" stroke-width="1.1"/>
<text x="60.93" y="731.00" font-size="10.2" text-anchor="end" transform="rotate(-90 60.93 731.00)" textLength="26.5" lengthAdjust="spacingAndGlyphs" style="stroke-width:0.45px">T+ TCB</text>
<line x1="67.26" y1="725.00" x2="67.26" y2="728.20" stroke="#111" stroke-width="1.1"/>
<text x="70.96" y="731.00" font-size="10.2" text-anchor="end" transform="rotate(-90 70.96 731.00)" textLength="26.8" lengthAdjust="spacingAndGlyphs" style="stroke-width:0.45px">+MDSC</text>
<line x1="77.29" y1="725.00" x2="77.29" y2="728.20" stroke="#111" stroke-width="1.1"/>
<text x="80.99" y="731.00" font-size="10.2" text-anchor="end" transform="rotate(-90 80.99 731.00)" textLength="41.5" lengthAdjust="spacingAndGlyphs" style="stroke-width:0.45px">MDSC alone</text>
<line x1="87.32" y1="725.00" x2="87.32" y2="728.20" stroke="#111" stroke-width="1.1"/>
<text x="91.02" y="731.00" font-size="10.2" text-anchor="end" transform="rotate(-90 91.02 731.00)" textLength="4.0" lengthAdjust="spacingAndGlyphs" style="stroke-width:0.45px">T</text>
<line x1="97.35" y1="725.00" x2="97.35" y2="728.20" stroke="#111" stroke-width="1.1"/>
<text x="101.05" y="731.00" font-size="10.2" text-anchor="end" transform="rotate(-90 101.05 731.00)" textLength="26.5" lengthAdjust="spacingAndGlyphs" style="stroke-width:0.45px">T+ TCB</text>
<line x1="107.38" y1="725.00" x2="107.38" y2="728.20" stroke="#111" stroke-width="1.1"/>
<text x="111.08" y="731.00" font-size="10.2" text-anchor="end" transform="rotate(-90 111.08 731.00)" textLength="26.8" lengthAdjust="spacingAndGlyphs" style="stroke-width:0.45px">+MDSC</text>
<line x1="117.41" y1="725.00" x2="117.41" y2="728.20" stroke="#111" stroke-width="1.1"/>
<text x="121.11" y="731.00" font-size="10.2" text-anchor="end" transform="rotate(-90 121.11 731.00)" textLength="41.5" lengthAdjust="spacingAndGlyphs" style="stroke-width:0.45px">MDSC alone</text>
<line x1="127.44" y1="725.00" x2="127.44" y2="728.20" stroke="#111" stroke-width="1.1"/>
<text x="131.14" y="731.00" font-size="10.2" text-anchor="end" transform="rotate(-90 131.14 731.00)" textLength="4.0" lengthAdjust="spacingAndGlyphs" style="stroke-width:0.45px">T</text>
<line x1="137.47" y1="725.00" x2="137.47" y2="728.20" stroke="#111" stroke-width="1.1"/>
<text x="141.17" y="731.00" font-size="10.2" text-anchor="end" transform="rotate(-90 141.17 731.00)" textLength="26.5" lengthAdjust="spacingAndGlyphs" style="stroke-width:0.45px">T+ TCB</text>
<line x1="147.50" y1="725.00" x2="147.50" y2="728.20" stroke="#111" stroke-width="1.1"/>
<text x="151.20" y="731.00" font-size="10.2" text-anchor="end" transform="rotate(-90 151.20 731.00)" textLength="26.8" lengthAdjust="spacingAndGlyphs" style="stroke-width:0.45px">+MDSC</text>
<line x1="157.53" y1="725.00" x2="157.53" y2="728.20" stroke="#111" stroke-width="1.1"/>
<text x="161.23" y="731.00" font-size="10.2" text-anchor="end" transform="rotate(-90 161.23 731.00)" textLength="41.5" lengthAdjust="spacingAndGlyphs" style="stroke-width:0.45px">MDSC alone</text>
<line x1="51.80" y1="643.00" x2="74.00" y2="643.00" stroke="#111" stroke-width="1.9"/>
<text x="62.90" y="640.50" font-size="10" text-anchor="middle" font-style="italic" style="stroke-width:0.05px">ns</text>
<line x1="92.20" y1="643.00" x2="114.40" y2="643.00" stroke="#111" stroke-width="1.9"/>
<text x="103.60" y="642.60" font-size="10.5" text-anchor="middle" letter-spacing="0.6" style="stroke-width:0.15px">*</text>
<line x1="134.80" y1="643.00" x2="156.50" y2="643.00" stroke="#111" stroke-width="1.9"/>
<text x="145.65" y="640.50" font-size="10" text-anchor="middle" font-style="italic" style="stroke-width:0.05px">ns</text>
<line x1="47.40" y1="782.90" x2="79.60" y2="782.90" stroke="#111" stroke-width="1.9"/>
<line x1="87.40" y1="782.90" x2="119.60" y2="782.90" stroke="#111" stroke-width="1.9"/>
<line x1="129.80" y1="782.90" x2="167.70" y2="782.90" stroke="#111" stroke-width="1.9"/>
<text x="68.00" y="793.60" font-size="8.8" text-anchor="middle" textLength="28.3" lengthAdjust="spacingAndGlyphs" style="stroke-width:0.1px">Pre-KTx</text>
<text x="108.70" y="793.60" font-size="8.8" text-anchor="middle" textLength="33" lengthAdjust="spacingAndGlyphs" style="stroke-width:0.1px">1.5-4 mo</text>
<text x="107.40" y="802.40" font-size="8.8" text-anchor="middle" textLength="30.5" lengthAdjust="spacingAndGlyphs" style="stroke-width:0.1px">post-KTx</text>
<text x="151.40" y="793.60" font-size="8.8" text-anchor="middle" textLength="30.5" lengthAdjust="spacingAndGlyphs" style="stroke-width:0.1px">6-12 mo</text>
<text x="151.00" y="802.40" font-size="8.8" text-anchor="middle" textLength="31.5" lengthAdjust="spacingAndGlyphs" style="stroke-width:0.1px">post-KTx</text>
<text x="98.60" y="624.00" font-size="10.8" text-anchor="middle" style="stroke-width:0px">IFN-&#947;</text>
<text x="8.0" y="628.5" font-size="13.5" font-weight="bold" fill="#111">G</text>
<text x="11.70" y="685.20" font-size="9.6" text-anchor="middle" transform="rotate(-90 11.70 685.20)" textLength="50.4" lengthAdjust="spacingAndGlyphs" style="stroke-width:0.3px">IFN-&#947; (pg/mL)</text>
<rect x="226.33" y="693.80" width="7.8" height="31.20" fill="#14508a"/>
<line x1="230.23" y1="678.70" x2="230.23" y2="693.80" stroke="#2a2a2a" stroke-width="1.3"/>
<line x1="227.23" y1="679.00" x2="233.23" y2="679.00" stroke="#2a2a2a" stroke-width="1.8"/>
<rect x="236.36" y="698.70" width="7.8" height="26.30" fill="#3bb34a"/>
<line x1="240.26" y1="684.40" x2="240.26" y2="698.70" stroke="#2a2a2a" stroke-width="1.3"/>
<line x1="237.26" y1="684.70" x2="243.26" y2="684.70" stroke="#2a2a2a" stroke-width="1.8"/>
<rect x="256.42" y="723.80" width="7.8" height="1.20" fill="#c0172f"/>
<rect x="266.45" y="696.60" width="7.8" height="28.40" fill="#14508a"/>
<line x1="270.35" y1="688.20" x2="270.35" y2="696.60" stroke="#2a2a2a" stroke-width="1.3"/>
<line x1="267.35" y1="688.50" x2="273.35" y2="688.50" stroke="#2a2a2a" stroke-width="1.8"/>
<rect x="276.48" y="721.20" width="7.8" height="3.80" fill="#3bb34a"/>
<line x1="280.38" y1="719.50" x2="280.38" y2="721.20" stroke="#2a2a2a" stroke-width="1.3"/>
<line x1="277.38" y1="719.80" x2="283.38" y2="719.80" stroke="#2a2a2a" stroke-width="1.8"/>
<rect x="296.54" y="724.20" width="7.8" height="0.80" fill="#c0172f"/>
<rect x="306.57" y="711.70" width="7.8" height="13.30" fill="#14508a"/>
<line x1="310.47" y1="708.40" x2="310.47" y2="711.70" stroke="#2a2a2a" stroke-width="1.3"/>
<line x1="307.47" y1="708.70" x2="313.47" y2="708.70" stroke="#2a2a2a" stroke-width="1.8"/>
<rect x="316.60" y="717.80" width="7.8" height="7.20" fill="#3bb34a"/>
<line x1="320.50" y1="714.80" x2="320.50" y2="717.80" stroke="#2a2a2a" stroke-width="1.3"/>
<line x1="317.50" y1="715.10" x2="323.50" y2="715.10" stroke="#2a2a2a" stroke-width="1.8"/>
<line x1="213.80" y1="642.30" x2="213.80" y2="725.80" stroke="#111" stroke-width="1.5"/>
<line x1="213.10" y1="725.00" x2="338.30" y2="725.00" stroke="#111" stroke-width="1.5"/>
<line x1="209.60" y1="725.00" x2="213.80" y2="725.00" stroke="#111" stroke-width="1.1"/>
<text x="206.10" y="728.40" font-size="8.6" text-anchor="end">0</text>
<line x1="209.60" y1="713.80" x2="213.80" y2="713.80" stroke="#111" stroke-width="1.1"/>
<text x="206.10" y="717.20" font-size="8.6" text-anchor="end">50</text>
<line x1="209.60" y1="700.90" x2="213.80" y2="700.90" stroke="#111" stroke-width="1.1"/>
<text x="206.10" y="704.30" font-size="8.6" text-anchor="end">100</text>
<line x1="209.60" y1="688.60" x2="213.80" y2="688.60" stroke="#111" stroke-width="1.1"/>
<text x="206.10" y="692.00" font-size="8.6" text-anchor="end">150</text>
<line x1="209.60" y1="676.90" x2="213.80" y2="676.90" stroke="#111" stroke-width="1.1"/>
<text x="206.10" y="680.30" font-size="8.6" text-anchor="end">200</text>
<line x1="209.60" y1="665.60" x2="213.80" y2="665.60" stroke="#111" stroke-width="1.1"/>
<text x="206.10" y="669.00" font-size="8.6" text-anchor="end">250</text>
<line x1="209.60" y1="654.20" x2="213.80" y2="654.20" stroke="#111" stroke-width="1.1"/>
<text x="206.10" y="657.60" font-size="8.6" text-anchor="end">300</text>
<line x1="209.60" y1="642.70" x2="213.80" y2="642.70" stroke="#111" stroke-width="1.1"/>
<text x="206.10" y="646.10" font-size="8.6" text-anchor="end">350</text>
<line x1="220.20" y1="725.00" x2="220.20" y2="728.20" stroke="#111" stroke-width="1.1"/>
<text x="223.90" y="731.00" font-size="10.2" text-anchor="end" transform="rotate(-90 223.90 731.00)" textLength="4.0" lengthAdjust="spacingAndGlyphs" style="stroke-width:0.45px">T</text>
<line x1="230.23" y1="725.00" x2="230.23" y2="728.20" stroke="#111" stroke-width="1.1"/>
<text x="233.93" y="731.00" font-size="10.2" text-anchor="end" transform="rotate(-90 233.93 731.00)" textLength="26.5" lengthAdjust="spacingAndGlyphs" style="stroke-width:0.45px">T+ TCB</text>
<line x1="240.26" y1="725.00" x2="240.26" y2="728.20" stroke="#111" stroke-width="1.1"/>
<text x="243.96" y="731.00" font-size="10.2" text-anchor="end" transform="rotate(-90 243.96 731.00)" textLength="26.8" lengthAdjust="spacingAndGlyphs" style="stroke-width:0.45px">+MDSC</text>
<line x1="250.29" y1="725.00" x2="250.29" y2="728.20" stroke="#111" stroke-width="1.1"/>
<text x="253.99" y="731.00" font-size="10.2" text-anchor="end" transform="rotate(-90 253.99 731.00)" textLength="41.5" lengthAdjust="spacingAndGlyphs" style="stroke-width:0.45px">MDSC alone</text>
<line x1="260.32" y1="725.00" x2="260.32" y2="728.20" stroke="#111" stroke-width="1.1"/>
<text x="264.02" y="731.00" font-size="10.2" text-anchor="end" transform="rotate(-90 264.02 731.00)" textLength="4.0" lengthAdjust="spacingAndGlyphs" style="stroke-width:0.45px">T</text>
<line x1="270.35" y1="725.00" x2="270.35" y2="728.20" stroke="#111" stroke-width="1.1"/>
<text x="274.05" y="731.00" font-size="10.2" text-anchor="end" transform="rotate(-90 274.05 731.00)" textLength="26.5" lengthAdjust="spacingAndGlyphs" style="stroke-width:0.45px">T+ TCB</text>
<line x1="280.38" y1="725.00" x2="280.38" y2="728.20" stroke="#111" stroke-width="1.1"/>
<text x="284.08" y="731.00" font-size="10.2" text-anchor="end" transform="rotate(-90 284.08 731.00)" textLength="26.8" lengthAdjust="spacingAndGlyphs" style="stroke-width:0.45px">+MDSC</text>
<line x1="290.41" y1="725.00" x2="290.41" y2="728.20" stroke="#111" stroke-width="1.1"/>
<text x="294.11" y="731.00" font-size="10.2" text-anchor="end" transform="rotate(-90 294.11 731.00)" textLength="41.5" lengthAdjust="spacingAndGlyphs" style="stroke-width:0.45px">MDSC alone</text>
<line x1="300.44" y1="725.00" x2="300.44" y2="728.20" stroke="#111" stroke-width="1.1"/>
<text x="304.14" y="731.00" font-size="10.2" text-anchor="end" transform="rotate(-90 304.14 731.00)" textLength="4.0" lengthAdjust="spacingAndGlyphs" style="stroke-width:0.45px">T</text>
<line x1="310.47" y1="725.00" x2="310.47" y2="728.20" stroke="#111" stroke-width="1.1"/>
<text x="314.17" y="731.00" font-size="10.2" text-anchor="end" transform="rotate(-90 314.17 731.00)" textLength="26.5" lengthAdjust="spacingAndGlyphs" style="stroke-width:0.45px">T+ TCB</text>
<line x1="320.50" y1="725.00" x2="320.50" y2="728.20" stroke="#111" stroke-width="1.1"/>
<text x="324.20" y="731.00" font-size="10.2" text-anchor="end" transform="rotate(-90 324.20 731.00)" textLength="26.8" lengthAdjust="spacingAndGlyphs" style="stroke-width:0.45px">+MDSC</text>
<line x1="330.53" y1="725.00" x2="330.53" y2="728.20" stroke="#111" stroke-width="1.1"/>
<text x="334.23" y="731.00" font-size="10.2" text-anchor="end" transform="rotate(-90 334.23 731.00)" textLength="41.5" lengthAdjust="spacingAndGlyphs" style="stroke-width:0.45px">MDSC alone</text>
<line x1="224.80" y1="643.00" x2="247.00" y2="643.00" stroke="#111" stroke-width="1.9"/>
<text x="235.90" y="640.50" font-size="10" text-anchor="middle" font-style="italic" style="stroke-width:0.05px">ns</text>
<line x1="265.20" y1="643.00" x2="287.40" y2="643.00" stroke="#111" stroke-width="1.9"/>
<text x="276.60" y="642.60" font-size="10.5" text-anchor="middle" letter-spacing="0.6" style="stroke-width:0.15px">**</text>
<line x1="307.80" y1="643.00" x2="329.50" y2="643.00" stroke="#111" stroke-width="1.9"/>
<text x="318.65" y="640.50" font-size="10" text-anchor="middle" font-style="italic" style="stroke-width:0.05px">ns</text>
<line x1="220.40" y1="782.90" x2="252.60" y2="782.90" stroke="#111" stroke-width="1.9"/>
<line x1="260.40" y1="782.90" x2="292.60" y2="782.90" stroke="#111" stroke-width="1.9"/>
<line x1="302.80" y1="782.90" x2="340.70" y2="782.90" stroke="#111" stroke-width="1.9"/>
<text x="241.00" y="793.60" font-size="8.8" text-anchor="middle" textLength="28.3" lengthAdjust="spacingAndGlyphs" style="stroke-width:0.1px">Pre-KTx</text>
<text x="281.70" y="793.60" font-size="8.8" text-anchor="middle" textLength="33" lengthAdjust="spacingAndGlyphs" style="stroke-width:0.1px">1.5-4 mo</text>
<text x="280.40" y="802.40" font-size="8.8" text-anchor="middle" textLength="30.5" lengthAdjust="spacingAndGlyphs" style="stroke-width:0.1px">post-KTx</text>
<text x="324.40" y="793.60" font-size="8.8" text-anchor="middle" textLength="30.5" lengthAdjust="spacingAndGlyphs" style="stroke-width:0.1px">6-12 mo</text>
<text x="324.00" y="802.40" font-size="8.8" text-anchor="middle" textLength="31.5" lengthAdjust="spacingAndGlyphs" style="stroke-width:0.1px">post-KTx</text>
<text x="279.00" y="624.00" font-size="10.8" text-anchor="middle" style="stroke-width:0px">IL-2</text>
<text x="181.3" y="628.5" font-size="13.5" font-weight="bold" fill="#111">H</text>
<text x="184.90" y="685.20" font-size="9.6" text-anchor="middle" transform="rotate(-90 184.90 685.20)" textLength="44.3" lengthAdjust="spacingAndGlyphs" style="stroke-width:0.3px">IL-2 (pg/mL)</text>
<rect x="449.48" y="687.50" width="7.8" height="37.50" fill="#3bb34a"/>
<line x1="453.38" y1="666.30" x2="453.38" y2="687.50" stroke="#2a2a2a" stroke-width="1.3"/>
<line x1="450.38" y1="666.60" x2="456.38" y2="666.60" stroke="#2a2a2a" stroke-width="1.8"/>
<rect x="479.57" y="721.20" width="7.8" height="3.80" fill="#14508a"/>
<line x1="483.47" y1="716.80" x2="483.47" y2="721.20" stroke="#2a2a2a" stroke-width="1.3"/>
<line x1="480.47" y1="717.10" x2="486.47" y2="717.10" stroke="#2a2a2a" stroke-width="1.8"/>
<line x1="386.80" y1="642.30" x2="386.80" y2="725.80" stroke="#111" stroke-width="1.5"/>
<line x1="386.10" y1="725.00" x2="511.30" y2="725.00" stroke="#111" stroke-width="1.5"/>
<line x1="382.60" y1="725.00" x2="386.80" y2="725.00" stroke="#111" stroke-width="1.1"/>
<text x="379.10" y="728.40" font-size="8.6" text-anchor="end">0</text>
<line x1="382.60" y1="704.60" x2="386.80" y2="704.60" stroke="#111" stroke-width="1.1"/>
<text x="379.10" y="708.00" font-size="8.6" text-anchor="end">10</text>
<line x1="382.60" y1="683.80" x2="386.80" y2="683.80" stroke="#111" stroke-width="1.1"/>
<text x="379.10" y="687.20" font-size="8.6" text-anchor="end">20</text>
<line x1="382.60" y1="663.00" x2="386.80" y2="663.00" stroke="#111" stroke-width="1.1"/>
<text x="379.10" y="666.40" font-size="8.6" text-anchor="end">30</text>
<line x1="382.60" y1="643.00" x2="386.80" y2="643.00" stroke="#111" stroke-width="1.1"/>
<text x="379.10" y="646.40" font-size="8.6" text-anchor="end">40</text>
<line x1="393.20" y1="725.00" x2="393.20" y2="728.20" stroke="#111" stroke-width="1.1"/>
<text x="396.90" y="731.00" font-size="10.2" text-anchor="end" transform="rotate(-90 396.90 731.00)" textLength="4.0" lengthAdjust="spacingAndGlyphs" style="stroke-width:0.45px">T</text>
<line x1="403.23" y1="725.00" x2="403.23" y2="728.20" stroke="#111" stroke-width="1.1"/>
<text x="406.93" y="731.00" font-size="10.2" text-anchor="end" transform="rotate(-90 406.93 731.00)" textLength="26.5" lengthAdjust="spacingAndGlyphs" style="stroke-width:0.45px">T+ TCB</text>
<line x1="413.26" y1="725.00" x2="413.26" y2="728.20" stroke="#111" stroke-width="1.1"/>
<text x="416.96" y="731.00" font-size="10.2" text-anchor="end" transform="rotate(-90 416.96 731.00)" textLength="26.8" lengthAdjust="spacingAndGlyphs" style="stroke-width:0.45px">+MDSC</text>
<line x1="423.29" y1="725.00" x2="423.29" y2="728.20" stroke="#111" stroke-width="1.1"/>
<text x="426.99" y="731.00" font-size="10.2" text-anchor="end" transform="rotate(-90 426.99 731.00)" textLength="41.5" lengthAdjust="spacingAndGlyphs" style="stroke-width:0.45px">MDSC alone</text>
<line x1="433.32" y1="725.00" x2="433.32" y2="728.20" stroke="#111" stroke-width="1.1"/>
<text x="437.02" y="731.00" font-size="10.2" text-anchor="end" transform="rotate(-90 437.02 731.00)" textLength="4.0" lengthAdjust="spacingAndGlyphs" style="stroke-width:0.45px">T</text>
<line x1="443.35" y1="725.00" x2="443.35" y2="728.20" stroke="#111" stroke-width="1.1"/>
<text x="447.05" y="731.00" font-size="10.2" text-anchor="end" transform="rotate(-90 447.05 731.00)" textLength="26.5" lengthAdjust="spacingAndGlyphs" style="stroke-width:0.45px">T+ TCB</text>
<line x1="453.38" y1="725.00" x2="453.38" y2="728.20" stroke="#111" stroke-width="1.1"/>
<text x="457.08" y="731.00" font-size="10.2" text-anchor="end" transform="rotate(-90 457.08 731.00)" textLength="26.8" lengthAdjust="spacingAndGlyphs" style="stroke-width:0.45px">+MDSC</text>
<line x1="463.41" y1="725.00" x2="463.41" y2="728.20" stroke="#111" stroke-width="1.1"/>
<text x="467.11" y="731.00" font-size="10.2" text-anchor="end" transform="rotate(-90 467.11 731.00)" textLength="41.5" lengthAdjust="spacingAndGlyphs" style="stroke-width:0.45px">MDSC alone</text>
<line x1="473.44" y1="725.00" x2="473.44" y2="728.20" stroke="#111" stroke-width="1.1"/>
<text x="477.14" y="731.00" font-size="10.2" text-anchor="end" transform="rotate(-90 477.14 731.00)" textLength="4.0" lengthAdjust="spacingAndGlyphs" style="stroke-width:0.45px">T</text>
<line x1="483.47" y1="725.00" x2="483.47" y2="728.20" stroke="#111" stroke-width="1.1"/>
<text x="487.17" y="731.00" font-size="10.2" text-anchor="end" transform="rotate(-90 487.17 731.00)" textLength="26.5" lengthAdjust="spacingAndGlyphs" style="stroke-width:0.45px">T+ TCB</text>
<line x1="493.50" y1="725.00" x2="493.50" y2="728.20" stroke="#111" stroke-width="1.1"/>
<text x="497.20" y="731.00" font-size="10.2" text-anchor="end" transform="rotate(-90 497.20 731.00)" textLength="26.8" lengthAdjust="spacingAndGlyphs" style="stroke-width:0.45px">+MDSC</text>
<line x1="503.53" y1="725.00" x2="503.53" y2="728.20" stroke="#111" stroke-width="1.1"/>
<text x="507.23" y="731.00" font-size="10.2" text-anchor="end" transform="rotate(-90 507.23 731.00)" textLength="41.5" lengthAdjust="spacingAndGlyphs" style="stroke-width:0.45px">MDSC alone</text>
<line x1="397.80" y1="643.00" x2="420.00" y2="643.00" stroke="#111" stroke-width="1.9"/>
<text x="408.90" y="640.50" font-size="10" text-anchor="middle" font-style="italic" style="stroke-width:0.05px">ns</text>
<line x1="438.20" y1="643.00" x2="460.40" y2="643.00" stroke="#111" stroke-width="1.9"/>
<text x="449.60" y="642.60" font-size="10.5" text-anchor="middle" letter-spacing="0.6" style="stroke-width:0.15px">**</text>
<line x1="480.80" y1="643.00" x2="502.50" y2="643.00" stroke="#111" stroke-width="1.9"/>
<text x="491.65" y="640.50" font-size="10" text-anchor="middle" font-style="italic" style="stroke-width:0.05px">ns</text>
<line x1="393.40" y1="782.90" x2="425.60" y2="782.90" stroke="#111" stroke-width="1.9"/>
<line x1="433.40" y1="782.90" x2="465.60" y2="782.90" stroke="#111" stroke-width="1.9"/>
<line x1="475.80" y1="782.90" x2="513.70" y2="782.90" stroke="#111" stroke-width="1.9"/>
<text x="414.00" y="793.60" font-size="8.8" text-anchor="middle" textLength="28.3" lengthAdjust="spacingAndGlyphs" style="stroke-width:0.1px">Pre-KTx</text>
<text x="454.70" y="793.60" font-size="8.8" text-anchor="middle" textLength="33" lengthAdjust="spacingAndGlyphs" style="stroke-width:0.1px">1.5-4 mo</text>
<text x="453.40" y="802.40" font-size="8.8" text-anchor="middle" textLength="30.5" lengthAdjust="spacingAndGlyphs" style="stroke-width:0.1px">post-KTx</text>
<text x="497.40" y="793.60" font-size="8.8" text-anchor="middle" textLength="30.5" lengthAdjust="spacingAndGlyphs" style="stroke-width:0.1px">6-12 mo</text>
<text x="497.00" y="802.40" font-size="8.8" text-anchor="middle" textLength="31.5" lengthAdjust="spacingAndGlyphs" style="stroke-width:0.1px">post-KTx</text>
<text x="456.70" y="624.00" font-size="10.8" text-anchor="middle" style="stroke-width:0px">ARG-1</text>
<text x="357.6" y="628.5" font-size="13.5" font-weight="bold" fill="#111">I</text>
<text x="358.60" y="682.30" font-size="9.6" text-anchor="middle" transform="rotate(-90 358.60 682.30)" textLength="53" lengthAdjust="spacingAndGlyphs" style="stroke-width:0.3px">ARG-1 (ng/mL)</text>
<rect x="0" y="0" width="520" height="1.6" fill="#000"/>
<rect x="0" y="0" width="1.5" height="813" fill="#000"/>
<rect x="518.1" y="0" width="1.9" height="813" fill="#000"/>
<rect x="0" y="810.7" width="520" height="2.3" fill="#000"/>
</svg>
</body></html>
